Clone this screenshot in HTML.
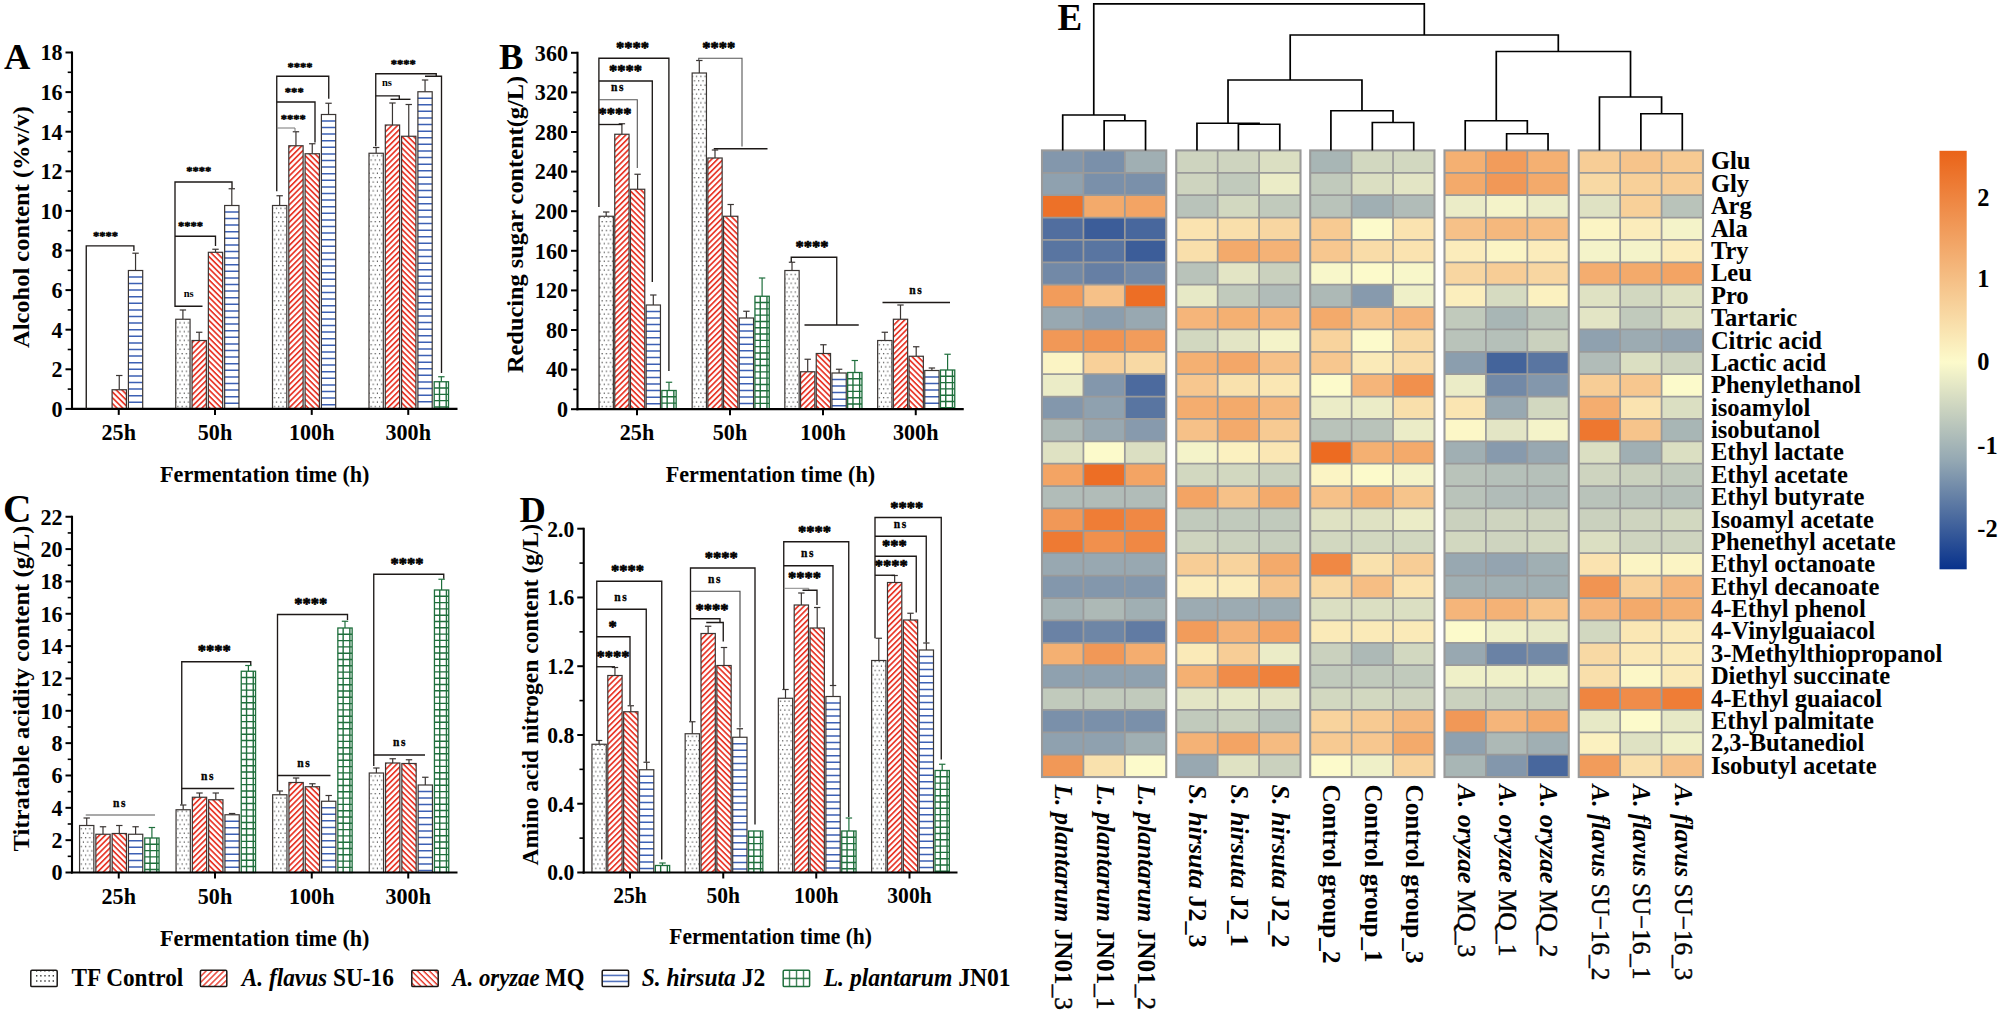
<!DOCTYPE html>
<html lang="en">
<head>
<meta charset="utf-8">
<title>Figure: fermentation parameters and metabolite heatmap</title>
<style>
html,body{margin:0;padding:0;background:#fff;}
body{width:2000px;height:1012px;overflow:hidden;}
svg{display:block;}
svg text{font-family:"Liberation Serif", "Times New Roman", serif;font-weight:bold;fill:#000;}
</style>
</head>
<body>
<svg width="2000" height="1012" viewBox="0 0 2000 1012">
<rect width="2000" height="1012" fill="#fff"/>
<defs>
<pattern id="dots" width="8.4" height="8.8" patternUnits="userSpaceOnUse"><rect width="8.4" height="8.8" fill="#fff"/><g fill="#444"><rect x="1" y="1" width="1.1" height="1.3"/><rect x="5.2" y="1" width="1.1" height="1.3"/><rect x="3.1" y="5.4" width="1.1" height="1.3"/><rect x="7.3" y="5.4" width="1.1" height="1.3"/></g></pattern>
<pattern id="hatchF" width="4.1" height="4.1" patternUnits="userSpaceOnUse" patternTransform="rotate(-45)"><rect width="4.1" height="4.1" fill="#fff"/><rect width="4.1" height="1.75" fill="#e8392b"/></pattern>
<pattern id="hatchB" width="4.1" height="4.1" patternUnits="userSpaceOnUse" patternTransform="rotate(45)"><rect width="4.1" height="4.1" fill="#fff"/><rect width="4.1" height="1.75" fill="#e8392b"/></pattern>
<pattern id="hlines" width="10" height="6.6" patternUnits="userSpaceOnUse"><rect width="10" height="6.6" fill="#fff"/><rect y="2.5" width="10" height="1.5" fill="#3c60b4"/></pattern>
<pattern id="grid" width="5.2" height="6.2" patternUnits="userSpaceOnUse" x="1.5"><rect width="5.2" height="6.2" fill="#fff"/><rect y="2.4" width="5.2" height="1.5" fill="#1f6f3c"/><rect x="3.6" width="1.5" height="6.2" fill="#1f6f3c"/></pattern>
<pattern id="dotsL" width="5" height="7" patternUnits="userSpaceOnUse"><rect width="5" height="7" fill="#fff"/></pattern>
<pattern id="hatchFL" width="4.2" height="4.2" patternUnits="userSpaceOnUse" patternTransform="rotate(-45)"><rect width="4.2" height="4.2" fill="#fff"/><rect width="4.2" height="1.4" fill="#e8392b"/></pattern>
<pattern id="hatchBL" width="4.2" height="4.2" patternUnits="userSpaceOnUse" patternTransform="rotate(45)"><rect width="4.2" height="4.2" fill="#fff"/><rect width="4.2" height="1.4" fill="#e8392b"/></pattern>
<pattern id="hlinesL" width="10" height="6" patternUnits="userSpaceOnUse" y="970.2"><rect width="10" height="6" fill="#fff"/><rect y="4.6" width="10" height="1.4" fill="#3c60b4"/></pattern>
<pattern id="gridL" width="7" height="17" patternUnits="userSpaceOnUse" x="783.2" y="970.2"><rect width="7" height="17" fill="#fff"/><rect y="7.6" width="7" height="1.4" fill="#1f6f3c"/><rect x="5.8" width="1.4" height="17" fill="#1f6f3c"/></pattern>
</defs>
<line x1="119.25" y1="389.75" x2="119.25" y2="375.5" stroke="#3a3533" stroke-width="1.2"/>
<line x1="116.05" y1="375.5" x2="122.45" y2="375.5" stroke="#3a3533" stroke-width="1.2"/>
<rect x="112.1" y="389.75" width="14.3" height="19.15" fill="url(#hatchB)" stroke="#3a3533" stroke-width="1.2"/>
<line x1="135.55" y1="270.5" x2="135.55" y2="253.2" stroke="#3a3533" stroke-width="1.2"/>
<line x1="132.35" y1="253.2" x2="138.75" y2="253.2" stroke="#3a3533" stroke-width="1.2"/>
<rect x="128.4" y="270.5" width="14.3" height="138.4" fill="#fff"/>
<path d="M128.4 276.9h14.3M128.4 283.5h14.3M128.4 290.1h14.3M128.4 296.7h14.3M128.4 303.3h14.3M128.4 309.9h14.3M128.4 316.5h14.3M128.4 323.1h14.3M128.4 329.7h14.3M128.4 336.3h14.3M128.4 342.9h14.3M128.4 349.5h14.3M128.4 356.1h14.3M128.4 362.7h14.3M128.4 369.3h14.3M128.4 375.9h14.3M128.4 382.5h14.3M128.4 389.1h14.3M128.4 395.7h14.3M128.4 402.3h14.3" stroke="#3c60b4" stroke-width="1.5" fill="none"/>
<rect x="128.4" y="270.5" width="14.3" height="138.4" fill="none" stroke="#3a3533" stroke-width="1.2"/>
<line x1="182.9" y1="319.25" x2="182.9" y2="310" stroke="#3a3533" stroke-width="1.2"/>
<line x1="179.7" y1="310" x2="186.1" y2="310" stroke="#3a3533" stroke-width="1.2"/>
<rect x="175.75" y="319.25" width="14.3" height="89.65" fill="url(#dots)" stroke="#3a3533" stroke-width="1.2"/>
<line x1="199.2" y1="340.5" x2="199.2" y2="332.25" stroke="#3a3533" stroke-width="1.2"/>
<line x1="196" y1="332.25" x2="202.4" y2="332.25" stroke="#3a3533" stroke-width="1.2"/>
<rect x="192.05" y="340.5" width="14.3" height="68.4" fill="url(#hatchF)" stroke="#3a3533" stroke-width="1.2"/>
<line x1="215.5" y1="252.3" x2="215.5" y2="249.25" stroke="#3a3533" stroke-width="1.2"/>
<line x1="212.3" y1="249.25" x2="218.7" y2="249.25" stroke="#3a3533" stroke-width="1.2"/>
<rect x="208.35" y="252.3" width="14.3" height="156.6" fill="url(#hatchB)" stroke="#3a3533" stroke-width="1.2"/>
<line x1="231.8" y1="205.5" x2="231.8" y2="188.75" stroke="#3a3533" stroke-width="1.2"/>
<line x1="228.6" y1="188.75" x2="235" y2="188.75" stroke="#3a3533" stroke-width="1.2"/>
<rect x="224.65" y="205.5" width="14.3" height="203.4" fill="#fff"/>
<path d="M224.65 211.9h14.3M224.65 218.5h14.3M224.65 225.1h14.3M224.65 231.7h14.3M224.65 238.3h14.3M224.65 244.9h14.3M224.65 251.5h14.3M224.65 258.1h14.3M224.65 264.7h14.3M224.65 271.3h14.3M224.65 277.9h14.3M224.65 284.5h14.3M224.65 291.1h14.3M224.65 297.7h14.3M224.65 304.3h14.3M224.65 310.9h14.3M224.65 317.5h14.3M224.65 324.1h14.3M224.65 330.7h14.3M224.65 337.3h14.3M224.65 343.9h14.3M224.65 350.5h14.3M224.65 357.1h14.3M224.65 363.7h14.3M224.65 370.3h14.3M224.65 376.9h14.3M224.65 383.5h14.3M224.65 390.1h14.3M224.65 396.7h14.3M224.65 403.3h14.3" stroke="#3c60b4" stroke-width="1.5" fill="none"/>
<rect x="224.65" y="205.5" width="14.3" height="203.4" fill="none" stroke="#3a3533" stroke-width="1.2"/>
<line x1="279.65" y1="205.5" x2="279.65" y2="195.75" stroke="#3a3533" stroke-width="1.2"/>
<line x1="276.45" y1="195.75" x2="282.85" y2="195.75" stroke="#3a3533" stroke-width="1.2"/>
<rect x="272.5" y="205.5" width="14.3" height="203.4" fill="url(#dots)" stroke="#3a3533" stroke-width="1.2"/>
<line x1="295.95" y1="145.75" x2="295.95" y2="131.75" stroke="#3a3533" stroke-width="1.2"/>
<line x1="292.75" y1="131.75" x2="299.15" y2="131.75" stroke="#3a3533" stroke-width="1.2"/>
<rect x="288.8" y="145.75" width="14.3" height="263.15" fill="url(#hatchF)" stroke="#3a3533" stroke-width="1.2"/>
<line x1="312.25" y1="153.75" x2="312.25" y2="143.75" stroke="#3a3533" stroke-width="1.2"/>
<line x1="309.05" y1="143.75" x2="315.45" y2="143.75" stroke="#3a3533" stroke-width="1.2"/>
<rect x="305.1" y="153.75" width="14.3" height="255.15" fill="url(#hatchB)" stroke="#3a3533" stroke-width="1.2"/>
<line x1="328.55" y1="114.5" x2="328.55" y2="103.25" stroke="#3a3533" stroke-width="1.2"/>
<line x1="325.35" y1="103.25" x2="331.75" y2="103.25" stroke="#3a3533" stroke-width="1.2"/>
<rect x="321.4" y="114.5" width="14.3" height="294.4" fill="#fff"/>
<path d="M321.4 120.9h14.3M321.4 127.5h14.3M321.4 134.1h14.3M321.4 140.7h14.3M321.4 147.3h14.3M321.4 153.9h14.3M321.4 160.5h14.3M321.4 167.1h14.3M321.4 173.7h14.3M321.4 180.3h14.3M321.4 186.9h14.3M321.4 193.5h14.3M321.4 200.1h14.3M321.4 206.7h14.3M321.4 213.3h14.3M321.4 219.9h14.3M321.4 226.5h14.3M321.4 233.1h14.3M321.4 239.7h14.3M321.4 246.3h14.3M321.4 252.9h14.3M321.4 259.5h14.3M321.4 266.1h14.3M321.4 272.7h14.3M321.4 279.3h14.3M321.4 285.9h14.3M321.4 292.5h14.3M321.4 299.1h14.3M321.4 305.7h14.3M321.4 312.3h14.3M321.4 318.9h14.3M321.4 325.5h14.3M321.4 332.1h14.3M321.4 338.7h14.3M321.4 345.3h14.3M321.4 351.9h14.3M321.4 358.5h14.3M321.4 365.1h14.3M321.4 371.7h14.3M321.4 378.3h14.3M321.4 384.9h14.3M321.4 391.5h14.3M321.4 398.1h14.3M321.4 404.7h14.3" stroke="#3c60b4" stroke-width="1.5" fill="none"/>
<rect x="321.4" y="114.5" width="14.3" height="294.4" fill="none" stroke="#3a3533" stroke-width="1.2"/>
<line x1="376.15" y1="153.25" x2="376.15" y2="147.5" stroke="#3a3533" stroke-width="1.2"/>
<line x1="372.95" y1="147.5" x2="379.35" y2="147.5" stroke="#3a3533" stroke-width="1.2"/>
<rect x="369" y="153.25" width="14.3" height="255.65" fill="url(#dots)" stroke="#3a3533" stroke-width="1.2"/>
<line x1="392.45" y1="125" x2="392.45" y2="103" stroke="#3a3533" stroke-width="1.2"/>
<line x1="389.25" y1="103" x2="395.65" y2="103" stroke="#3a3533" stroke-width="1.2"/>
<rect x="385.3" y="125" width="14.3" height="283.9" fill="url(#hatchF)" stroke="#3a3533" stroke-width="1.2"/>
<line x1="408.75" y1="136.25" x2="408.75" y2="104.5" stroke="#3a3533" stroke-width="1.2"/>
<line x1="405.55" y1="104.5" x2="411.95" y2="104.5" stroke="#3a3533" stroke-width="1.2"/>
<rect x="401.6" y="136.25" width="14.3" height="272.65" fill="url(#hatchB)" stroke="#3a3533" stroke-width="1.2"/>
<line x1="425.05" y1="91.75" x2="425.05" y2="80" stroke="#3a3533" stroke-width="1.2"/>
<line x1="421.85" y1="80" x2="428.25" y2="80" stroke="#3a3533" stroke-width="1.2"/>
<rect x="417.9" y="91.75" width="14.3" height="317.15" fill="#fff"/>
<path d="M417.9 98.15h14.3M417.9 104.75h14.3M417.9 111.35h14.3M417.9 117.95h14.3M417.9 124.55h14.3M417.9 131.15h14.3M417.9 137.75h14.3M417.9 144.35h14.3M417.9 150.95h14.3M417.9 157.55h14.3M417.9 164.15h14.3M417.9 170.75h14.3M417.9 177.35h14.3M417.9 183.95h14.3M417.9 190.55h14.3M417.9 197.15h14.3M417.9 203.75h14.3M417.9 210.35h14.3M417.9 216.95h14.3M417.9 223.55h14.3M417.9 230.15h14.3M417.9 236.75h14.3M417.9 243.35h14.3M417.9 249.95h14.3M417.9 256.55h14.3M417.9 263.15h14.3M417.9 269.75h14.3M417.9 276.35h14.3M417.9 282.95h14.3M417.9 289.55h14.3M417.9 296.15h14.3M417.9 302.75h14.3M417.9 309.35h14.3M417.9 315.95h14.3M417.9 322.55h14.3M417.9 329.15h14.3M417.9 335.75h14.3M417.9 342.35h14.3M417.9 348.95h14.3M417.9 355.55h14.3M417.9 362.15h14.3M417.9 368.75h14.3M417.9 375.35h14.3M417.9 381.95h14.3M417.9 388.55h14.3M417.9 395.15h14.3M417.9 401.75h14.3" stroke="#3c60b4" stroke-width="1.5" fill="none"/>
<rect x="417.9" y="91.75" width="14.3" height="317.15" fill="none" stroke="#3a3533" stroke-width="1.2"/>
<line x1="441.35" y1="381.75" x2="441.35" y2="376.75" stroke="#1f6f3c" stroke-width="1.2"/>
<line x1="438.15" y1="376.75" x2="444.55" y2="376.75" stroke="#1f6f3c" stroke-width="1.2"/>
<rect x="434.2" y="381.75" width="14.3" height="27.15" fill="#fff"/>
<path d="M434.2 388.05h14.3M434.2 394.35h14.3M434.2 400.65h14.3M434.2 406.95h14.3M439.5 381.75V408.9M446.2 381.75V408.9" stroke="#1f6f3c" stroke-width="1.4" fill="none"/>
<rect x="434.2" y="381.75" width="14.3" height="27.15" fill="none" stroke="#1f6f3c" stroke-width="1.3"/>
<line x1="72" y1="51.5" x2="72" y2="409.9" stroke="#000" stroke-width="2.1"/>
<line x1="70.9" y1="408.9" x2="457.5" y2="408.9" stroke="#000" stroke-width="2.2"/>
<line x1="65.5" y1="408.9" x2="72" y2="408.9" stroke="#000" stroke-width="2"/>
<text x="62.5" y="416.7" font-size="23.5" text-anchor="end" textLength="11.04" lengthAdjust="spacingAndGlyphs">0</text>
<line x1="65.5" y1="369.3" x2="72" y2="369.3" stroke="#000" stroke-width="2"/>
<text x="62.5" y="377.1" font-size="23.5" text-anchor="end" textLength="11.04" lengthAdjust="spacingAndGlyphs">2</text>
<line x1="65.5" y1="329.7" x2="72" y2="329.7" stroke="#000" stroke-width="2"/>
<text x="62.5" y="337.5" font-size="23.5" text-anchor="end" textLength="11.04" lengthAdjust="spacingAndGlyphs">4</text>
<line x1="65.5" y1="290.1" x2="72" y2="290.1" stroke="#000" stroke-width="2"/>
<text x="62.5" y="297.9" font-size="23.5" text-anchor="end" textLength="11.04" lengthAdjust="spacingAndGlyphs">6</text>
<line x1="65.5" y1="250.5" x2="72" y2="250.5" stroke="#000" stroke-width="2"/>
<text x="62.5" y="258.3" font-size="23.5" text-anchor="end" textLength="11.04" lengthAdjust="spacingAndGlyphs">8</text>
<line x1="65.5" y1="210.9" x2="72" y2="210.9" stroke="#000" stroke-width="2"/>
<text x="62.5" y="218.7" font-size="23.5" text-anchor="end" textLength="22.09" lengthAdjust="spacingAndGlyphs">10</text>
<line x1="65.5" y1="171.3" x2="72" y2="171.3" stroke="#000" stroke-width="2"/>
<text x="62.5" y="179.1" font-size="23.5" text-anchor="end" textLength="22.09" lengthAdjust="spacingAndGlyphs">12</text>
<line x1="65.5" y1="131.7" x2="72" y2="131.7" stroke="#000" stroke-width="2"/>
<text x="62.5" y="139.5" font-size="23.5" text-anchor="end" textLength="22.09" lengthAdjust="spacingAndGlyphs">14</text>
<line x1="65.5" y1="92.1" x2="72" y2="92.1" stroke="#000" stroke-width="2"/>
<text x="62.5" y="99.9" font-size="23.5" text-anchor="end" textLength="22.09" lengthAdjust="spacingAndGlyphs">16</text>
<line x1="65.5" y1="52.5" x2="72" y2="52.5" stroke="#000" stroke-width="2"/>
<text x="62.5" y="60.3" font-size="23.5" text-anchor="end" textLength="22.09" lengthAdjust="spacingAndGlyphs">18</text>
<line x1="67.7" y1="389.1" x2="72" y2="389.1" stroke="#000" stroke-width="1.6"/>
<line x1="67.7" y1="349.5" x2="72" y2="349.5" stroke="#000" stroke-width="1.6"/>
<line x1="67.7" y1="309.9" x2="72" y2="309.9" stroke="#000" stroke-width="1.6"/>
<line x1="67.7" y1="270.3" x2="72" y2="270.3" stroke="#000" stroke-width="1.6"/>
<line x1="67.7" y1="230.7" x2="72" y2="230.7" stroke="#000" stroke-width="1.6"/>
<line x1="67.7" y1="191.1" x2="72" y2="191.1" stroke="#000" stroke-width="1.6"/>
<line x1="67.7" y1="151.5" x2="72" y2="151.5" stroke="#000" stroke-width="1.6"/>
<line x1="67.7" y1="111.9" x2="72" y2="111.9" stroke="#000" stroke-width="1.6"/>
<line x1="67.7" y1="72.3" x2="72" y2="72.3" stroke="#000" stroke-width="1.6"/>
<line x1="118.75" y1="408.9" x2="118.75" y2="414.9" stroke="#000" stroke-width="2"/>
<text x="118.75" y="440" font-size="23.5" text-anchor="middle" textLength="34.38" lengthAdjust="spacingAndGlyphs">25h</text>
<line x1="215" y1="408.9" x2="215" y2="414.9" stroke="#000" stroke-width="2"/>
<text x="215" y="440" font-size="23.5" text-anchor="middle" textLength="34.38" lengthAdjust="spacingAndGlyphs">50h</text>
<line x1="311.75" y1="408.9" x2="311.75" y2="414.9" stroke="#000" stroke-width="2"/>
<text x="311.75" y="440" font-size="23.5" text-anchor="middle" textLength="45.42" lengthAdjust="spacingAndGlyphs">100h</text>
<line x1="408.25" y1="408.9" x2="408.25" y2="414.9" stroke="#000" stroke-width="2"/>
<text x="408.25" y="440" font-size="23.5" text-anchor="middle" textLength="45.42" lengthAdjust="spacingAndGlyphs">300h</text>
<text x="4" y="69" font-size="36.5" text-anchor="start">A</text>
<text x="28.9" y="227" font-size="23.2" text-anchor="middle" textLength="242" lengthAdjust="spacingAndGlyphs" transform="rotate(-90 28.9 227)">Alcohol content (%v/v)</text>
<text x="264.75" y="481.7" font-size="23" text-anchor="middle" textLength="209.5" lengthAdjust="spacingAndGlyphs">Fermentation time (h)</text>
<polyline points="86.25,408.9 86.25,245.9 133.9,245.9 133.9,251" fill="none" stroke="#1d1917" stroke-width="1.35"/>
<text x="105.5" y="239.5" font-size="12.6" text-anchor="middle" stroke="#000" stroke-width="0.5" stroke-linejoin="round">****</text>
<polyline points="232,188.5 232,182 175,182 175,306.2 202.5,306.2" fill="none" stroke="#1d1917" stroke-width="1.35"/>
<text x="198.75" y="175.3" font-size="12.6" text-anchor="middle" stroke="#000" stroke-width="0.5" stroke-linejoin="round">****</text>
<polyline points="175,236.25 215.5,236.25 215.5,246" fill="none" stroke="#1d1917" stroke-width="1.35"/>
<text x="190.5" y="229.55" font-size="12.6" text-anchor="middle" stroke="#000" stroke-width="0.5" stroke-linejoin="round">****</text>
<text x="188.75" y="297.25" font-size="10.5" text-anchor="middle" font-weight="normal" fill="#333">ns</text>
<polyline points="328.75,98.75 328.75,76.25 276.75,76.25 276.75,191.25" fill="none" stroke="#1d1917" stroke-width="1.35"/>
<text x="300" y="71.3" font-size="12.6" text-anchor="middle" stroke="#000" stroke-width="0.5" stroke-linejoin="round">****</text>
<polyline points="276.75,102 315,102 315,142.5" fill="none" stroke="#1d1917" stroke-width="1.35"/>
<text x="294.25" y="96.3" font-size="12.6" text-anchor="middle" stroke="#000" stroke-width="0.5" stroke-linejoin="round">***</text>
<polyline points="276.75,128 295,128 295,131.5" fill="none" stroke="#777" stroke-width="1"/>
<text x="293.25" y="122.55" font-size="12.6" text-anchor="middle" stroke="#000" stroke-width="0.5" stroke-linejoin="round">****</text>
<polyline points="375.75,146.25 375.75,73.75 436.25,73.75 436.25,76.25" fill="none" stroke="#1d1917" stroke-width="1.35"/>
<polyline points="425,76.25 441.5,76.25 441.5,373" fill="none" stroke="#1d1917" stroke-width="1.35"/>
<text x="403.25" y="68.3" font-size="12.6" text-anchor="middle" stroke="#000" stroke-width="0.5" stroke-linejoin="round">****</text>
<polyline points="375.75,95.9 399.3,95.9 399.3,99.3" fill="none" stroke="#1d1917" stroke-width="1.35"/>
<line x1="390.5" y1="99.3" x2="410.5" y2="99.3" stroke="#1d1917" stroke-width="1.35"/>
<text x="387" y="85.5" font-size="10.5" text-anchor="middle" font-weight="normal" fill="#333">ns</text>
<line x1="606.2" y1="216.25" x2="606.2" y2="212" stroke="#3a3533" stroke-width="1.2"/>
<line x1="603" y1="212" x2="609.4" y2="212" stroke="#3a3533" stroke-width="1.2"/>
<rect x="599.05" y="216.25" width="14.3" height="192.95" fill="url(#dots)" stroke="#3a3533" stroke-width="1.2"/>
<line x1="621.9" y1="134.25" x2="621.9" y2="123.75" stroke="#3a3533" stroke-width="1.2"/>
<line x1="618.7" y1="123.75" x2="625.1" y2="123.75" stroke="#3a3533" stroke-width="1.2"/>
<rect x="614.75" y="134.25" width="14.3" height="274.95" fill="url(#hatchF)" stroke="#3a3533" stroke-width="1.2"/>
<line x1="637.6" y1="189.25" x2="637.6" y2="174.25" stroke="#3a3533" stroke-width="1.2"/>
<line x1="634.4" y1="174.25" x2="640.8" y2="174.25" stroke="#3a3533" stroke-width="1.2"/>
<rect x="630.45" y="189.25" width="14.3" height="219.95" fill="url(#hatchB)" stroke="#3a3533" stroke-width="1.2"/>
<line x1="653.3" y1="305" x2="653.3" y2="295" stroke="#3a3533" stroke-width="1.2"/>
<line x1="650.1" y1="295" x2="656.5" y2="295" stroke="#3a3533" stroke-width="1.2"/>
<rect x="646.15" y="305" width="14.3" height="104.2" fill="#fff"/>
<path d="M646.15 311.4h14.3M646.15 318h14.3M646.15 324.6h14.3M646.15 331.2h14.3M646.15 337.8h14.3M646.15 344.4h14.3M646.15 351h14.3M646.15 357.6h14.3M646.15 364.2h14.3M646.15 370.8h14.3M646.15 377.4h14.3M646.15 384h14.3M646.15 390.6h14.3M646.15 397.2h14.3M646.15 403.8h14.3" stroke="#3c60b4" stroke-width="1.5" fill="none"/>
<rect x="646.15" y="305" width="14.3" height="104.2" fill="none" stroke="#3a3533" stroke-width="1.2"/>
<line x1="669" y1="390.5" x2="669" y2="382.25" stroke="#1f6f3c" stroke-width="1.2"/>
<line x1="665.8" y1="382.25" x2="672.2" y2="382.25" stroke="#1f6f3c" stroke-width="1.2"/>
<rect x="661.85" y="390.5" width="14.3" height="18.7" fill="#fff"/>
<path d="M661.85 396.8h14.3M661.85 403.1h14.3M667.15 390.5V409.2M673.85 390.5V409.2" stroke="#1f6f3c" stroke-width="1.4" fill="none"/>
<rect x="661.85" y="390.5" width="14.3" height="18.7" fill="none" stroke="#1f6f3c" stroke-width="1.3"/>
<line x1="699.3" y1="73" x2="699.3" y2="60.5" stroke="#3a3533" stroke-width="1.2"/>
<line x1="696.1" y1="60.5" x2="702.5" y2="60.5" stroke="#3a3533" stroke-width="1.2"/>
<rect x="692.15" y="73" width="14.3" height="336.2" fill="url(#dots)" stroke="#3a3533" stroke-width="1.2"/>
<line x1="715" y1="158" x2="715" y2="150" stroke="#3a3533" stroke-width="1.2"/>
<line x1="711.8" y1="150" x2="718.2" y2="150" stroke="#3a3533" stroke-width="1.2"/>
<rect x="707.85" y="158" width="14.3" height="251.2" fill="url(#hatchF)" stroke="#3a3533" stroke-width="1.2"/>
<line x1="730.7" y1="216.25" x2="730.7" y2="204.5" stroke="#3a3533" stroke-width="1.2"/>
<line x1="727.5" y1="204.5" x2="733.9" y2="204.5" stroke="#3a3533" stroke-width="1.2"/>
<rect x="723.55" y="216.25" width="14.3" height="192.95" fill="url(#hatchB)" stroke="#3a3533" stroke-width="1.2"/>
<line x1="746.4" y1="318" x2="746.4" y2="311.25" stroke="#3a3533" stroke-width="1.2"/>
<line x1="743.2" y1="311.25" x2="749.6" y2="311.25" stroke="#3a3533" stroke-width="1.2"/>
<rect x="739.25" y="318" width="14.3" height="91.2" fill="#fff"/>
<path d="M739.25 324.4h14.3M739.25 331h14.3M739.25 337.6h14.3M739.25 344.2h14.3M739.25 350.8h14.3M739.25 357.4h14.3M739.25 364h14.3M739.25 370.6h14.3M739.25 377.2h14.3M739.25 383.8h14.3M739.25 390.4h14.3M739.25 397h14.3M739.25 403.6h14.3" stroke="#3c60b4" stroke-width="1.5" fill="none"/>
<rect x="739.25" y="318" width="14.3" height="91.2" fill="none" stroke="#3a3533" stroke-width="1.2"/>
<line x1="762.1" y1="296.25" x2="762.1" y2="278" stroke="#1f6f3c" stroke-width="1.2"/>
<line x1="758.9" y1="278" x2="765.3" y2="278" stroke="#1f6f3c" stroke-width="1.2"/>
<rect x="754.95" y="296.25" width="14.3" height="112.95" fill="#fff"/>
<path d="M754.95 302.55h14.3M754.95 308.85h14.3M754.95 315.15h14.3M754.95 321.45h14.3M754.95 327.75h14.3M754.95 334.05h14.3M754.95 340.35h14.3M754.95 346.65h14.3M754.95 352.95h14.3M754.95 359.25h14.3M754.95 365.55h14.3M754.95 371.85h14.3M754.95 378.15h14.3M754.95 384.45h14.3M754.95 390.75h14.3M754.95 397.05h14.3M754.95 403.35h14.3M760.25 296.25V409.2M766.95 296.25V409.2" stroke="#1f6f3c" stroke-width="1.4" fill="none"/>
<rect x="754.95" y="296.25" width="14.3" height="112.95" fill="none" stroke="#1f6f3c" stroke-width="1.3"/>
<line x1="792" y1="270.5" x2="792" y2="262.25" stroke="#3a3533" stroke-width="1.2"/>
<line x1="788.8" y1="262.25" x2="795.2" y2="262.25" stroke="#3a3533" stroke-width="1.2"/>
<rect x="784.85" y="270.5" width="14.3" height="138.7" fill="url(#dots)" stroke="#3a3533" stroke-width="1.2"/>
<line x1="807.7" y1="371.75" x2="807.7" y2="359.25" stroke="#3a3533" stroke-width="1.2"/>
<line x1="804.5" y1="359.25" x2="810.9" y2="359.25" stroke="#3a3533" stroke-width="1.2"/>
<rect x="800.55" y="371.75" width="14.3" height="37.45" fill="url(#hatchF)" stroke="#3a3533" stroke-width="1.2"/>
<line x1="823.4" y1="353.5" x2="823.4" y2="344.75" stroke="#3a3533" stroke-width="1.2"/>
<line x1="820.2" y1="344.75" x2="826.6" y2="344.75" stroke="#3a3533" stroke-width="1.2"/>
<rect x="816.25" y="353.5" width="14.3" height="55.7" fill="url(#hatchB)" stroke="#3a3533" stroke-width="1.2"/>
<line x1="839.1" y1="373" x2="839.1" y2="369.25" stroke="#3a3533" stroke-width="1.2"/>
<line x1="835.9" y1="369.25" x2="842.3" y2="369.25" stroke="#3a3533" stroke-width="1.2"/>
<rect x="831.95" y="373" width="14.3" height="36.2" fill="#fff"/>
<path d="M831.95 379.4h14.3M831.95 386h14.3M831.95 392.6h14.3M831.95 399.2h14.3M831.95 405.8h14.3" stroke="#3c60b4" stroke-width="1.5" fill="none"/>
<rect x="831.95" y="373" width="14.3" height="36.2" fill="none" stroke="#3a3533" stroke-width="1.2"/>
<line x1="854.8" y1="372.5" x2="854.8" y2="360.5" stroke="#1f6f3c" stroke-width="1.2"/>
<line x1="851.6" y1="360.5" x2="858" y2="360.5" stroke="#1f6f3c" stroke-width="1.2"/>
<rect x="847.65" y="372.5" width="14.3" height="36.7" fill="#fff"/>
<path d="M847.65 378.8h14.3M847.65 385.1h14.3M847.65 391.4h14.3M847.65 397.7h14.3M847.65 404h14.3M852.95 372.5V409.2M859.65 372.5V409.2" stroke="#1f6f3c" stroke-width="1.4" fill="none"/>
<rect x="847.65" y="372.5" width="14.3" height="36.7" fill="none" stroke="#1f6f3c" stroke-width="1.3"/>
<line x1="884.8" y1="340.5" x2="884.8" y2="332.25" stroke="#3a3533" stroke-width="1.2"/>
<line x1="881.6" y1="332.25" x2="888" y2="332.25" stroke="#3a3533" stroke-width="1.2"/>
<rect x="877.65" y="340.5" width="14.3" height="68.7" fill="url(#dots)" stroke="#3a3533" stroke-width="1.2"/>
<line x1="900.5" y1="319.25" x2="900.5" y2="305" stroke="#3a3533" stroke-width="1.2"/>
<line x1="897.3" y1="305" x2="903.7" y2="305" stroke="#3a3533" stroke-width="1.2"/>
<rect x="893.35" y="319.25" width="14.3" height="89.95" fill="url(#hatchF)" stroke="#3a3533" stroke-width="1.2"/>
<line x1="916.2" y1="356.25" x2="916.2" y2="346.75" stroke="#3a3533" stroke-width="1.2"/>
<line x1="913" y1="346.75" x2="919.4" y2="346.75" stroke="#3a3533" stroke-width="1.2"/>
<rect x="909.05" y="356.25" width="14.3" height="52.95" fill="url(#hatchB)" stroke="#3a3533" stroke-width="1.2"/>
<line x1="931.9" y1="370.5" x2="931.9" y2="368" stroke="#3a3533" stroke-width="1.2"/>
<line x1="928.7" y1="368" x2="935.1" y2="368" stroke="#3a3533" stroke-width="1.2"/>
<rect x="924.75" y="370.5" width="14.3" height="38.7" fill="#fff"/>
<path d="M924.75 376.9h14.3M924.75 383.5h14.3M924.75 390.1h14.3M924.75 396.7h14.3M924.75 403.3h14.3" stroke="#3c60b4" stroke-width="1.5" fill="none"/>
<rect x="924.75" y="370.5" width="14.3" height="38.7" fill="none" stroke="#3a3533" stroke-width="1.2"/>
<line x1="947.6" y1="370" x2="947.6" y2="354.25" stroke="#1f6f3c" stroke-width="1.2"/>
<line x1="944.4" y1="354.25" x2="950.8" y2="354.25" stroke="#1f6f3c" stroke-width="1.2"/>
<rect x="940.45" y="370" width="14.3" height="39.2" fill="#fff"/>
<path d="M940.45 376.3h14.3M940.45 382.6h14.3M940.45 388.9h14.3M940.45 395.2h14.3M940.45 401.5h14.3M940.45 407.8h14.3M945.75 370V409.2M952.45 370V409.2" stroke="#1f6f3c" stroke-width="1.4" fill="none"/>
<rect x="940.45" y="370" width="14.3" height="39.2" fill="none" stroke="#1f6f3c" stroke-width="1.3"/>
<line x1="577.5" y1="51.8" x2="577.5" y2="410.2" stroke="#000" stroke-width="2.1"/>
<line x1="576.4" y1="409.2" x2="963.75" y2="409.2" stroke="#000" stroke-width="2.2"/>
<line x1="571" y1="409.2" x2="577.5" y2="409.2" stroke="#000" stroke-width="2"/>
<text x="568" y="417" font-size="23.5" text-anchor="end" textLength="11.04" lengthAdjust="spacingAndGlyphs">0</text>
<line x1="571" y1="369.6" x2="577.5" y2="369.6" stroke="#000" stroke-width="2"/>
<text x="568" y="377.4" font-size="23.5" text-anchor="end" textLength="22.09" lengthAdjust="spacingAndGlyphs">40</text>
<line x1="571" y1="330" x2="577.5" y2="330" stroke="#000" stroke-width="2"/>
<text x="568" y="337.8" font-size="23.5" text-anchor="end" textLength="22.09" lengthAdjust="spacingAndGlyphs">80</text>
<line x1="571" y1="290.4" x2="577.5" y2="290.4" stroke="#000" stroke-width="2"/>
<text x="568" y="298.2" font-size="23.5" text-anchor="end" textLength="33.13" lengthAdjust="spacingAndGlyphs">120</text>
<line x1="571" y1="250.8" x2="577.5" y2="250.8" stroke="#000" stroke-width="2"/>
<text x="568" y="258.6" font-size="23.5" text-anchor="end" textLength="33.13" lengthAdjust="spacingAndGlyphs">160</text>
<line x1="571" y1="211.2" x2="577.5" y2="211.2" stroke="#000" stroke-width="2"/>
<text x="568" y="219" font-size="23.5" text-anchor="end" textLength="33.13" lengthAdjust="spacingAndGlyphs">200</text>
<line x1="571" y1="171.6" x2="577.5" y2="171.6" stroke="#000" stroke-width="2"/>
<text x="568" y="179.4" font-size="23.5" text-anchor="end" textLength="33.13" lengthAdjust="spacingAndGlyphs">240</text>
<line x1="571" y1="132" x2="577.5" y2="132" stroke="#000" stroke-width="2"/>
<text x="568" y="139.8" font-size="23.5" text-anchor="end" textLength="33.13" lengthAdjust="spacingAndGlyphs">280</text>
<line x1="571" y1="92.4" x2="577.5" y2="92.4" stroke="#000" stroke-width="2"/>
<text x="568" y="100.2" font-size="23.5" text-anchor="end" textLength="33.13" lengthAdjust="spacingAndGlyphs">320</text>
<line x1="571" y1="52.8" x2="577.5" y2="52.8" stroke="#000" stroke-width="2"/>
<text x="568" y="60.6" font-size="23.5" text-anchor="end" textLength="33.13" lengthAdjust="spacingAndGlyphs">360</text>
<line x1="573.2" y1="389.4" x2="577.5" y2="389.4" stroke="#000" stroke-width="1.6"/>
<line x1="573.2" y1="349.8" x2="577.5" y2="349.8" stroke="#000" stroke-width="1.6"/>
<line x1="573.2" y1="310.2" x2="577.5" y2="310.2" stroke="#000" stroke-width="1.6"/>
<line x1="573.2" y1="270.6" x2="577.5" y2="270.6" stroke="#000" stroke-width="1.6"/>
<line x1="573.2" y1="231" x2="577.5" y2="231" stroke="#000" stroke-width="1.6"/>
<line x1="573.2" y1="191.4" x2="577.5" y2="191.4" stroke="#000" stroke-width="1.6"/>
<line x1="573.2" y1="151.8" x2="577.5" y2="151.8" stroke="#000" stroke-width="1.6"/>
<line x1="573.2" y1="112.2" x2="577.5" y2="112.2" stroke="#000" stroke-width="1.6"/>
<line x1="573.2" y1="72.6" x2="577.5" y2="72.6" stroke="#000" stroke-width="1.6"/>
<line x1="637" y1="409.2" x2="637" y2="415.2" stroke="#000" stroke-width="2"/>
<text x="637" y="440" font-size="23.5" text-anchor="middle" textLength="34.38" lengthAdjust="spacingAndGlyphs">25h</text>
<line x1="730" y1="409.2" x2="730" y2="415.2" stroke="#000" stroke-width="2"/>
<text x="730" y="440" font-size="23.5" text-anchor="middle" textLength="34.38" lengthAdjust="spacingAndGlyphs">50h</text>
<line x1="823" y1="409.2" x2="823" y2="415.2" stroke="#000" stroke-width="2"/>
<text x="823" y="440" font-size="23.5" text-anchor="middle" textLength="45.42" lengthAdjust="spacingAndGlyphs">100h</text>
<line x1="915.75" y1="409.2" x2="915.75" y2="415.2" stroke="#000" stroke-width="2"/>
<text x="915.75" y="440" font-size="23.5" text-anchor="middle" textLength="45.42" lengthAdjust="spacingAndGlyphs">300h</text>
<text x="499" y="68.5" font-size="36.5" text-anchor="start">B</text>
<text x="522.8" y="224.5" font-size="23.2" text-anchor="middle" textLength="297" lengthAdjust="spacingAndGlyphs" transform="rotate(-90 522.8 224.5)">Reducing sugar content(g/L)</text>
<text x="770.4" y="481.7" font-size="23" text-anchor="middle" textLength="209.5" lengthAdjust="spacingAndGlyphs">Fermentation time (h)</text>
<polyline points="598.9,207 598.9,58.2 668.9,58.2 668.9,371" fill="none" stroke="#1d1917" stroke-width="1.35"/>
<text x="632.5" y="53.09" font-size="16.5" text-anchor="middle" stroke="#000" stroke-width="0.66" stroke-linejoin="round">****</text>
<polyline points="598.9,81 652.3,81 652.3,282" fill="none" stroke="#1d1917" stroke-width="1.35"/>
<text x="625.5" y="75.59" font-size="16.5" text-anchor="middle" stroke="#000" stroke-width="0.66" stroke-linejoin="round">****</text>
<polyline points="598.9,99.7 637.3,99.7 637.3,168" fill="none" stroke="#555" stroke-width="1.1"/>
<text x="618" y="90.5" font-size="11.5" text-anchor="middle" letter-spacing="1.5" stroke="#000" stroke-width="0.3">ns</text>
<polyline points="598.9,124.5 622.3,124.5" fill="none" stroke="#1d1917" stroke-width="1.35"/>
<text x="615" y="119.34" font-size="16.5" text-anchor="middle" stroke="#000" stroke-width="0.66" stroke-linejoin="round">****</text>
<polyline points="698.75,60.5 698.75,58.3 742,58.3 742,146.5" fill="none" stroke="#555" stroke-width="1.1"/>
<line x1="713.75" y1="148.75" x2="767.5" y2="148.75" stroke="#1d1917" stroke-width="1.35"/>
<text x="718.75" y="53.09" font-size="16.5" text-anchor="middle" stroke="#000" stroke-width="0.66" stroke-linejoin="round">****</text>
<polyline points="791.25,262 791.25,257.25 836.75,257.25 836.75,325" fill="none" stroke="#1d1917" stroke-width="1.35"/>
<line x1="804.5" y1="325" x2="858.75" y2="325" stroke="#1d1917" stroke-width="1.35"/>
<text x="812" y="251.59" font-size="16.5" text-anchor="middle" stroke="#000" stroke-width="0.66" stroke-linejoin="round">****</text>
<line x1="882.5" y1="302.5" x2="950" y2="302.5" stroke="#1d1917" stroke-width="1.35"/>
<text x="916.25" y="293.5" font-size="11.5" text-anchor="middle" letter-spacing="1.5" stroke="#000" stroke-width="0.3">ns</text>
<line x1="86.7" y1="825.5" x2="86.7" y2="818" stroke="#3a3533" stroke-width="1.2"/>
<line x1="83.5" y1="818" x2="89.9" y2="818" stroke="#3a3533" stroke-width="1.2"/>
<rect x="79.55" y="825.5" width="14.3" height="47" fill="url(#dots)" stroke="#3a3533" stroke-width="1.2"/>
<line x1="103" y1="834.25" x2="103" y2="826.75" stroke="#3a3533" stroke-width="1.2"/>
<line x1="99.8" y1="826.75" x2="106.2" y2="826.75" stroke="#3a3533" stroke-width="1.2"/>
<rect x="95.85" y="834.25" width="14.3" height="38.25" fill="url(#hatchF)" stroke="#3a3533" stroke-width="1.2"/>
<line x1="119.3" y1="833.5" x2="119.3" y2="825.5" stroke="#3a3533" stroke-width="1.2"/>
<line x1="116.1" y1="825.5" x2="122.5" y2="825.5" stroke="#3a3533" stroke-width="1.2"/>
<rect x="112.15" y="833.5" width="14.3" height="39" fill="url(#hatchB)" stroke="#3a3533" stroke-width="1.2"/>
<line x1="135.6" y1="834.25" x2="135.6" y2="826.75" stroke="#3a3533" stroke-width="1.2"/>
<line x1="132.4" y1="826.75" x2="138.8" y2="826.75" stroke="#3a3533" stroke-width="1.2"/>
<rect x="128.45" y="834.25" width="14.3" height="38.25" fill="#fff"/>
<path d="M128.45 840.65h14.3M128.45 847.25h14.3M128.45 853.85h14.3M128.45 860.45h14.3M128.45 867.05h14.3" stroke="#3c60b4" stroke-width="1.5" fill="none"/>
<rect x="128.45" y="834.25" width="14.3" height="38.25" fill="none" stroke="#3a3533" stroke-width="1.2"/>
<line x1="151.9" y1="838" x2="151.9" y2="827.5" stroke="#1f6f3c" stroke-width="1.2"/>
<line x1="148.7" y1="827.5" x2="155.1" y2="827.5" stroke="#1f6f3c" stroke-width="1.2"/>
<rect x="144.75" y="838" width="14.3" height="34.5" fill="#fff"/>
<path d="M144.75 844.3h14.3M144.75 850.6h14.3M144.75 856.9h14.3M144.75 863.2h14.3M144.75 869.5h14.3M150.05 838V872.5M156.75 838V872.5" stroke="#1f6f3c" stroke-width="1.4" fill="none"/>
<rect x="144.75" y="838" width="14.3" height="34.5" fill="none" stroke="#1f6f3c" stroke-width="1.3"/>
<line x1="183.2" y1="809.75" x2="183.2" y2="805" stroke="#3a3533" stroke-width="1.2"/>
<line x1="180" y1="805" x2="186.4" y2="805" stroke="#3a3533" stroke-width="1.2"/>
<rect x="176.05" y="809.75" width="14.3" height="62.75" fill="url(#dots)" stroke="#3a3533" stroke-width="1.2"/>
<line x1="199.5" y1="797.25" x2="199.5" y2="793" stroke="#3a3533" stroke-width="1.2"/>
<line x1="196.3" y1="793" x2="202.7" y2="793" stroke="#3a3533" stroke-width="1.2"/>
<rect x="192.35" y="797.25" width="14.3" height="75.25" fill="url(#hatchF)" stroke="#3a3533" stroke-width="1.2"/>
<line x1="215.8" y1="799.75" x2="215.8" y2="793" stroke="#3a3533" stroke-width="1.2"/>
<line x1="212.6" y1="793" x2="219" y2="793" stroke="#3a3533" stroke-width="1.2"/>
<rect x="208.65" y="799.75" width="14.3" height="72.75" fill="url(#hatchB)" stroke="#3a3533" stroke-width="1.2"/>
<line x1="232.1" y1="814.75" x2="232.1" y2="813.5" stroke="#3a3533" stroke-width="1.2"/>
<line x1="228.9" y1="813.5" x2="235.3" y2="813.5" stroke="#3a3533" stroke-width="1.2"/>
<rect x="224.95" y="814.75" width="14.3" height="57.75" fill="#fff"/>
<path d="M224.95 821.15h14.3M224.95 827.75h14.3M224.95 834.35h14.3M224.95 840.95h14.3M224.95 847.55h14.3M224.95 854.15h14.3M224.95 860.75h14.3M224.95 867.35h14.3" stroke="#3c60b4" stroke-width="1.5" fill="none"/>
<rect x="224.95" y="814.75" width="14.3" height="57.75" fill="none" stroke="#3a3533" stroke-width="1.2"/>
<line x1="248.4" y1="671.25" x2="248.4" y2="665.5" stroke="#1f6f3c" stroke-width="1.2"/>
<line x1="245.2" y1="665.5" x2="251.6" y2="665.5" stroke="#1f6f3c" stroke-width="1.2"/>
<rect x="241.25" y="671.25" width="14.3" height="201.25" fill="#fff"/>
<path d="M241.25 677.55h14.3M241.25 683.85h14.3M241.25 690.15h14.3M241.25 696.45h14.3M241.25 702.75h14.3M241.25 709.05h14.3M241.25 715.35h14.3M241.25 721.65h14.3M241.25 727.95h14.3M241.25 734.25h14.3M241.25 740.55h14.3M241.25 746.85h14.3M241.25 753.15h14.3M241.25 759.45h14.3M241.25 765.75h14.3M241.25 772.05h14.3M241.25 778.35h14.3M241.25 784.65h14.3M241.25 790.95h14.3M241.25 797.25h14.3M241.25 803.55h14.3M241.25 809.85h14.3M241.25 816.15h14.3M241.25 822.45h14.3M241.25 828.75h14.3M241.25 835.05h14.3M241.25 841.35h14.3M241.25 847.65h14.3M241.25 853.95h14.3M241.25 860.25h14.3M241.25 866.55h14.3M246.55 671.25V872.5M253.25 671.25V872.5" stroke="#1f6f3c" stroke-width="1.4" fill="none"/>
<rect x="241.25" y="671.25" width="14.3" height="201.25" fill="none" stroke="#1f6f3c" stroke-width="1.3"/>
<line x1="279.8" y1="794.75" x2="279.8" y2="791" stroke="#3a3533" stroke-width="1.2"/>
<line x1="276.6" y1="791" x2="283" y2="791" stroke="#3a3533" stroke-width="1.2"/>
<rect x="272.65" y="794.75" width="14.3" height="77.75" fill="url(#dots)" stroke="#3a3533" stroke-width="1.2"/>
<line x1="296.1" y1="782.5" x2="296.1" y2="778" stroke="#3a3533" stroke-width="1.2"/>
<line x1="292.9" y1="778" x2="299.3" y2="778" stroke="#3a3533" stroke-width="1.2"/>
<rect x="288.95" y="782.5" width="14.3" height="90" fill="url(#hatchF)" stroke="#3a3533" stroke-width="1.2"/>
<line x1="312.4" y1="786.75" x2="312.4" y2="783.75" stroke="#3a3533" stroke-width="1.2"/>
<line x1="309.2" y1="783.75" x2="315.6" y2="783.75" stroke="#3a3533" stroke-width="1.2"/>
<rect x="305.25" y="786.75" width="14.3" height="85.75" fill="url(#hatchB)" stroke="#3a3533" stroke-width="1.2"/>
<line x1="328.7" y1="801.25" x2="328.7" y2="795.5" stroke="#3a3533" stroke-width="1.2"/>
<line x1="325.5" y1="795.5" x2="331.9" y2="795.5" stroke="#3a3533" stroke-width="1.2"/>
<rect x="321.55" y="801.25" width="14.3" height="71.25" fill="#fff"/>
<path d="M321.55 807.65h14.3M321.55 814.25h14.3M321.55 820.85h14.3M321.55 827.45h14.3M321.55 834.05h14.3M321.55 840.65h14.3M321.55 847.25h14.3M321.55 853.85h14.3M321.55 860.45h14.3M321.55 867.05h14.3" stroke="#3c60b4" stroke-width="1.5" fill="none"/>
<rect x="321.55" y="801.25" width="14.3" height="71.25" fill="none" stroke="#3a3533" stroke-width="1.2"/>
<line x1="345" y1="628" x2="345" y2="621.25" stroke="#1f6f3c" stroke-width="1.2"/>
<line x1="341.8" y1="621.25" x2="348.2" y2="621.25" stroke="#1f6f3c" stroke-width="1.2"/>
<rect x="337.85" y="628" width="14.3" height="244.5" fill="#fff"/>
<path d="M337.85 634.3h14.3M337.85 640.6h14.3M337.85 646.9h14.3M337.85 653.2h14.3M337.85 659.5h14.3M337.85 665.8h14.3M337.85 672.1h14.3M337.85 678.4h14.3M337.85 684.7h14.3M337.85 691h14.3M337.85 697.3h14.3M337.85 703.6h14.3M337.85 709.9h14.3M337.85 716.2h14.3M337.85 722.5h14.3M337.85 728.8h14.3M337.85 735.1h14.3M337.85 741.4h14.3M337.85 747.7h14.3M337.85 754h14.3M337.85 760.3h14.3M337.85 766.6h14.3M337.85 772.9h14.3M337.85 779.2h14.3M337.85 785.5h14.3M337.85 791.8h14.3M337.85 798.1h14.3M337.85 804.4h14.3M337.85 810.7h14.3M337.85 817h14.3M337.85 823.3h14.3M337.85 829.6h14.3M337.85 835.9h14.3M337.85 842.2h14.3M337.85 848.5h14.3M337.85 854.8h14.3M337.85 861.1h14.3M337.85 867.4h14.3M343.15 628V872.5M349.85 628V872.5" stroke="#1f6f3c" stroke-width="1.4" fill="none"/>
<rect x="337.85" y="628" width="14.3" height="244.5" fill="none" stroke="#1f6f3c" stroke-width="1.3"/>
<line x1="376.4" y1="773" x2="376.4" y2="768" stroke="#3a3533" stroke-width="1.2"/>
<line x1="373.2" y1="768" x2="379.6" y2="768" stroke="#3a3533" stroke-width="1.2"/>
<rect x="369.25" y="773" width="14.3" height="99.5" fill="url(#dots)" stroke="#3a3533" stroke-width="1.2"/>
<line x1="392.7" y1="763" x2="392.7" y2="758.75" stroke="#3a3533" stroke-width="1.2"/>
<line x1="389.5" y1="758.75" x2="395.9" y2="758.75" stroke="#3a3533" stroke-width="1.2"/>
<rect x="385.55" y="763" width="14.3" height="109.5" fill="url(#hatchF)" stroke="#3a3533" stroke-width="1.2"/>
<line x1="409" y1="763.5" x2="409" y2="759.75" stroke="#3a3533" stroke-width="1.2"/>
<line x1="405.8" y1="759.75" x2="412.2" y2="759.75" stroke="#3a3533" stroke-width="1.2"/>
<rect x="401.85" y="763.5" width="14.3" height="109" fill="url(#hatchB)" stroke="#3a3533" stroke-width="1.2"/>
<line x1="425.3" y1="785" x2="425.3" y2="777.25" stroke="#3a3533" stroke-width="1.2"/>
<line x1="422.1" y1="777.25" x2="428.5" y2="777.25" stroke="#3a3533" stroke-width="1.2"/>
<rect x="418.15" y="785" width="14.3" height="87.5" fill="#fff"/>
<path d="M418.15 791.4h14.3M418.15 798h14.3M418.15 804.6h14.3M418.15 811.2h14.3M418.15 817.8h14.3M418.15 824.4h14.3M418.15 831h14.3M418.15 837.6h14.3M418.15 844.2h14.3M418.15 850.8h14.3M418.15 857.4h14.3M418.15 864h14.3M418.15 870.6h14.3" stroke="#3c60b4" stroke-width="1.5" fill="none"/>
<rect x="418.15" y="785" width="14.3" height="87.5" fill="none" stroke="#3a3533" stroke-width="1.2"/>
<line x1="441.6" y1="590" x2="441.6" y2="579.25" stroke="#1f6f3c" stroke-width="1.2"/>
<line x1="438.4" y1="579.25" x2="444.8" y2="579.25" stroke="#1f6f3c" stroke-width="1.2"/>
<rect x="434.45" y="590" width="14.3" height="282.5" fill="#fff"/>
<path d="M434.45 596.3h14.3M434.45 602.6h14.3M434.45 608.9h14.3M434.45 615.2h14.3M434.45 621.5h14.3M434.45 627.8h14.3M434.45 634.1h14.3M434.45 640.4h14.3M434.45 646.7h14.3M434.45 653h14.3M434.45 659.3h14.3M434.45 665.6h14.3M434.45 671.9h14.3M434.45 678.2h14.3M434.45 684.5h14.3M434.45 690.8h14.3M434.45 697.1h14.3M434.45 703.4h14.3M434.45 709.7h14.3M434.45 716h14.3M434.45 722.3h14.3M434.45 728.6h14.3M434.45 734.9h14.3M434.45 741.2h14.3M434.45 747.5h14.3M434.45 753.8h14.3M434.45 760.1h14.3M434.45 766.4h14.3M434.45 772.7h14.3M434.45 779h14.3M434.45 785.3h14.3M434.45 791.6h14.3M434.45 797.9h14.3M434.45 804.2h14.3M434.45 810.5h14.3M434.45 816.8h14.3M434.45 823.1h14.3M434.45 829.4h14.3M434.45 835.7h14.3M434.45 842h14.3M434.45 848.3h14.3M434.45 854.6h14.3M434.45 860.9h14.3M434.45 867.2h14.3M439.75 590V872.5M446.45 590V872.5" stroke="#1f6f3c" stroke-width="1.4" fill="none"/>
<rect x="434.45" y="590" width="14.3" height="282.5" fill="none" stroke="#1f6f3c" stroke-width="1.3"/>
<line x1="72" y1="515.76" x2="72" y2="873.5" stroke="#000" stroke-width="2.1"/>
<line x1="70.9" y1="872.5" x2="457.5" y2="872.5" stroke="#000" stroke-width="2.2"/>
<line x1="65.5" y1="872.5" x2="72" y2="872.5" stroke="#000" stroke-width="2"/>
<text x="62.5" y="880.3" font-size="23.5" text-anchor="end" textLength="11.04" lengthAdjust="spacingAndGlyphs">0</text>
<line x1="65.5" y1="840.16" x2="72" y2="840.16" stroke="#000" stroke-width="2"/>
<text x="62.5" y="847.96" font-size="23.5" text-anchor="end" textLength="11.04" lengthAdjust="spacingAndGlyphs">2</text>
<line x1="65.5" y1="807.82" x2="72" y2="807.82" stroke="#000" stroke-width="2"/>
<text x="62.5" y="815.62" font-size="23.5" text-anchor="end" textLength="11.04" lengthAdjust="spacingAndGlyphs">4</text>
<line x1="65.5" y1="775.48" x2="72" y2="775.48" stroke="#000" stroke-width="2"/>
<text x="62.5" y="783.28" font-size="23.5" text-anchor="end" textLength="11.04" lengthAdjust="spacingAndGlyphs">6</text>
<line x1="65.5" y1="743.14" x2="72" y2="743.14" stroke="#000" stroke-width="2"/>
<text x="62.5" y="750.94" font-size="23.5" text-anchor="end" textLength="11.04" lengthAdjust="spacingAndGlyphs">8</text>
<line x1="65.5" y1="710.8" x2="72" y2="710.8" stroke="#000" stroke-width="2"/>
<text x="62.5" y="718.6" font-size="23.5" text-anchor="end" textLength="22.09" lengthAdjust="spacingAndGlyphs">10</text>
<line x1="65.5" y1="678.46" x2="72" y2="678.46" stroke="#000" stroke-width="2"/>
<text x="62.5" y="686.26" font-size="23.5" text-anchor="end" textLength="22.09" lengthAdjust="spacingAndGlyphs">12</text>
<line x1="65.5" y1="646.12" x2="72" y2="646.12" stroke="#000" stroke-width="2"/>
<text x="62.5" y="653.92" font-size="23.5" text-anchor="end" textLength="22.09" lengthAdjust="spacingAndGlyphs">14</text>
<line x1="65.5" y1="613.78" x2="72" y2="613.78" stroke="#000" stroke-width="2"/>
<text x="62.5" y="621.58" font-size="23.5" text-anchor="end" textLength="22.09" lengthAdjust="spacingAndGlyphs">16</text>
<line x1="65.5" y1="581.44" x2="72" y2="581.44" stroke="#000" stroke-width="2"/>
<text x="62.5" y="589.24" font-size="23.5" text-anchor="end" textLength="22.09" lengthAdjust="spacingAndGlyphs">18</text>
<line x1="65.5" y1="549.1" x2="72" y2="549.1" stroke="#000" stroke-width="2"/>
<text x="62.5" y="556.9" font-size="23.5" text-anchor="end" textLength="22.09" lengthAdjust="spacingAndGlyphs">20</text>
<line x1="65.5" y1="516.76" x2="72" y2="516.76" stroke="#000" stroke-width="2"/>
<text x="62.5" y="524.56" font-size="23.5" text-anchor="end" textLength="22.09" lengthAdjust="spacingAndGlyphs">22</text>
<line x1="67.7" y1="856.33" x2="72" y2="856.33" stroke="#000" stroke-width="1.6"/>
<line x1="67.7" y1="823.99" x2="72" y2="823.99" stroke="#000" stroke-width="1.6"/>
<line x1="67.7" y1="791.65" x2="72" y2="791.65" stroke="#000" stroke-width="1.6"/>
<line x1="67.7" y1="759.31" x2="72" y2="759.31" stroke="#000" stroke-width="1.6"/>
<line x1="67.7" y1="726.97" x2="72" y2="726.97" stroke="#000" stroke-width="1.6"/>
<line x1="67.7" y1="694.63" x2="72" y2="694.63" stroke="#000" stroke-width="1.6"/>
<line x1="67.7" y1="662.29" x2="72" y2="662.29" stroke="#000" stroke-width="1.6"/>
<line x1="67.7" y1="629.95" x2="72" y2="629.95" stroke="#000" stroke-width="1.6"/>
<line x1="67.7" y1="597.61" x2="72" y2="597.61" stroke="#000" stroke-width="1.6"/>
<line x1="67.7" y1="565.27" x2="72" y2="565.27" stroke="#000" stroke-width="1.6"/>
<line x1="67.7" y1="532.93" x2="72" y2="532.93" stroke="#000" stroke-width="1.6"/>
<line x1="118.75" y1="872.5" x2="118.75" y2="878.5" stroke="#000" stroke-width="2"/>
<text x="118.75" y="904.3" font-size="23.5" text-anchor="middle" textLength="34.38" lengthAdjust="spacingAndGlyphs">25h</text>
<line x1="215" y1="872.5" x2="215" y2="878.5" stroke="#000" stroke-width="2"/>
<text x="215" y="904.3" font-size="23.5" text-anchor="middle" textLength="34.38" lengthAdjust="spacingAndGlyphs">50h</text>
<line x1="311.75" y1="872.5" x2="311.75" y2="878.5" stroke="#000" stroke-width="2"/>
<text x="311.75" y="904.3" font-size="23.5" text-anchor="middle" textLength="45.42" lengthAdjust="spacingAndGlyphs">100h</text>
<line x1="408.25" y1="872.5" x2="408.25" y2="878.5" stroke="#000" stroke-width="2"/>
<text x="408.25" y="904.3" font-size="23.5" text-anchor="middle" textLength="45.42" lengthAdjust="spacingAndGlyphs">300h</text>
<text x="3" y="522" font-size="39.5" text-anchor="start">C</text>
<text x="29.4" y="688.5" font-size="23.2" text-anchor="middle" textLength="326" lengthAdjust="spacingAndGlyphs" transform="rotate(-90 29.4 688.5)">Titratable acidity content (g/L)</text>
<text x="264.75" y="946" font-size="23" text-anchor="middle" textLength="209.5" lengthAdjust="spacingAndGlyphs">Fermentation time (h)</text>
<line x1="85.75" y1="815" x2="155" y2="815" stroke="#555" stroke-width="1.1"/>
<text x="120" y="806.5" font-size="11.5" text-anchor="middle" letter-spacing="1.5" stroke="#000" stroke-width="0.3">ns</text>
<polyline points="250.75,665 250.75,661.75 181.75,661.75 181.75,804.5" fill="none" stroke="#1d1917" stroke-width="1.35"/>
<text x="214.25" y="656.34" font-size="16.5" text-anchor="middle" stroke="#000" stroke-width="0.66" stroke-linejoin="round">****</text>
<line x1="181.75" y1="788.5" x2="234.25" y2="788.5" stroke="#1d1917" stroke-width="1.35"/>
<text x="208" y="779.75" font-size="11.5" text-anchor="middle" letter-spacing="1.5" stroke="#000" stroke-width="0.3">ns</text>
<polyline points="347.5,620 347.5,614.5 277.5,614.5 277.5,790.5" fill="none" stroke="#1d1917" stroke-width="1.35"/>
<text x="310.75" y="609.34" font-size="16.5" text-anchor="middle" stroke="#000" stroke-width="0.66" stroke-linejoin="round">****</text>
<line x1="277.5" y1="775.5" x2="330.5" y2="775.5" stroke="#1d1917" stroke-width="1.35"/>
<text x="304.25" y="766.75" font-size="11.5" text-anchor="middle" letter-spacing="1.5" stroke="#000" stroke-width="0.3">ns</text>
<polyline points="443.75,578.75 443.75,574.25 373.75,574.25 373.75,766" fill="none" stroke="#1d1917" stroke-width="1.35"/>
<text x="407" y="569.34" font-size="16.5" text-anchor="middle" stroke="#000" stroke-width="0.66" stroke-linejoin="round">****</text>
<line x1="373.75" y1="755" x2="425" y2="755" stroke="#1d1917" stroke-width="1.35"/>
<text x="400" y="746" font-size="11.5" text-anchor="middle" letter-spacing="1.5" stroke="#000" stroke-width="0.3">ns</text>
<line x1="599.1" y1="744.25" x2="599.1" y2="740.5" stroke="#3a3533" stroke-width="1.2"/>
<line x1="595.9" y1="740.5" x2="602.3" y2="740.5" stroke="#3a3533" stroke-width="1.2"/>
<rect x="591.95" y="744.25" width="14.3" height="128.25" fill="url(#dots)" stroke="#3a3533" stroke-width="1.2"/>
<line x1="614.95" y1="675.5" x2="614.95" y2="667.5" stroke="#3a3533" stroke-width="1.2"/>
<line x1="611.75" y1="667.5" x2="618.15" y2="667.5" stroke="#3a3533" stroke-width="1.2"/>
<rect x="607.8" y="675.5" width="14.3" height="197" fill="url(#hatchF)" stroke="#3a3533" stroke-width="1.2"/>
<line x1="630.8" y1="711.75" x2="630.8" y2="705.75" stroke="#3a3533" stroke-width="1.2"/>
<line x1="627.6" y1="705.75" x2="634" y2="705.75" stroke="#3a3533" stroke-width="1.2"/>
<rect x="623.65" y="711.75" width="14.3" height="160.75" fill="url(#hatchB)" stroke="#3a3533" stroke-width="1.2"/>
<line x1="646.65" y1="769.75" x2="646.65" y2="762.25" stroke="#3a3533" stroke-width="1.2"/>
<line x1="643.45" y1="762.25" x2="649.85" y2="762.25" stroke="#3a3533" stroke-width="1.2"/>
<rect x="639.5" y="769.75" width="14.3" height="102.75" fill="#fff"/>
<path d="M639.5 776.15h14.3M639.5 782.75h14.3M639.5 789.35h14.3M639.5 795.95h14.3M639.5 802.55h14.3M639.5 809.15h14.3M639.5 815.75h14.3M639.5 822.35h14.3M639.5 828.95h14.3M639.5 835.55h14.3M639.5 842.15h14.3M639.5 848.75h14.3M639.5 855.35h14.3M639.5 861.95h14.3M639.5 868.55h14.3" stroke="#3c60b4" stroke-width="1.5" fill="none"/>
<rect x="639.5" y="769.75" width="14.3" height="102.75" fill="none" stroke="#3a3533" stroke-width="1.2"/>
<line x1="662.5" y1="865.5" x2="662.5" y2="863" stroke="#1f6f3c" stroke-width="1.2"/>
<line x1="659.3" y1="863" x2="665.7" y2="863" stroke="#1f6f3c" stroke-width="1.2"/>
<rect x="655.35" y="865.5" width="14.3" height="7" fill="#fff"/>
<path d="M660.65 865.5V872.5M667.35 865.5V872.5" stroke="#1f6f3c" stroke-width="1.4" fill="none"/>
<rect x="655.35" y="865.5" width="14.3" height="7" fill="none" stroke="#1f6f3c" stroke-width="1.3"/>
<line x1="692.3" y1="733.75" x2="692.3" y2="721.75" stroke="#3a3533" stroke-width="1.2"/>
<line x1="689.1" y1="721.75" x2="695.5" y2="721.75" stroke="#3a3533" stroke-width="1.2"/>
<rect x="685.15" y="733.75" width="14.3" height="138.75" fill="url(#dots)" stroke="#3a3533" stroke-width="1.2"/>
<line x1="708.15" y1="633.5" x2="708.15" y2="626.25" stroke="#3a3533" stroke-width="1.2"/>
<line x1="704.95" y1="626.25" x2="711.35" y2="626.25" stroke="#3a3533" stroke-width="1.2"/>
<rect x="701" y="633.5" width="14.3" height="239" fill="url(#hatchF)" stroke="#3a3533" stroke-width="1.2"/>
<line x1="724" y1="665.5" x2="724" y2="647.5" stroke="#3a3533" stroke-width="1.2"/>
<line x1="720.8" y1="647.5" x2="727.2" y2="647.5" stroke="#3a3533" stroke-width="1.2"/>
<rect x="716.85" y="665.5" width="14.3" height="207" fill="url(#hatchB)" stroke="#3a3533" stroke-width="1.2"/>
<line x1="739.85" y1="737.25" x2="739.85" y2="728.75" stroke="#3a3533" stroke-width="1.2"/>
<line x1="736.65" y1="728.75" x2="743.05" y2="728.75" stroke="#3a3533" stroke-width="1.2"/>
<rect x="732.7" y="737.25" width="14.3" height="135.25" fill="#fff"/>
<path d="M732.7 743.65h14.3M732.7 750.25h14.3M732.7 756.85h14.3M732.7 763.45h14.3M732.7 770.05h14.3M732.7 776.65h14.3M732.7 783.25h14.3M732.7 789.85h14.3M732.7 796.45h14.3M732.7 803.05h14.3M732.7 809.65h14.3M732.7 816.25h14.3M732.7 822.85h14.3M732.7 829.45h14.3M732.7 836.05h14.3M732.7 842.65h14.3M732.7 849.25h14.3M732.7 855.85h14.3M732.7 862.45h14.3M732.7 869.05h14.3" stroke="#3c60b4" stroke-width="1.5" fill="none"/>
<rect x="732.7" y="737.25" width="14.3" height="135.25" fill="none" stroke="#3a3533" stroke-width="1.2"/>
<rect x="748.55" y="831" width="14.3" height="41.5" fill="#fff"/>
<path d="M748.55 837.3h14.3M748.55 843.6h14.3M748.55 849.9h14.3M748.55 856.2h14.3M748.55 862.5h14.3M748.55 868.8h14.3M753.85 831V872.5M760.55 831V872.5" stroke="#1f6f3c" stroke-width="1.4" fill="none"/>
<rect x="748.55" y="831" width="14.3" height="41.5" fill="none" stroke="#1f6f3c" stroke-width="1.3"/>
<line x1="785.5" y1="698.25" x2="785.5" y2="689.5" stroke="#3a3533" stroke-width="1.2"/>
<line x1="782.3" y1="689.5" x2="788.7" y2="689.5" stroke="#3a3533" stroke-width="1.2"/>
<rect x="778.35" y="698.25" width="14.3" height="174.25" fill="url(#dots)" stroke="#3a3533" stroke-width="1.2"/>
<line x1="801.35" y1="605" x2="801.35" y2="593" stroke="#3a3533" stroke-width="1.2"/>
<line x1="798.15" y1="593" x2="804.55" y2="593" stroke="#3a3533" stroke-width="1.2"/>
<rect x="794.2" y="605" width="14.3" height="267.5" fill="url(#hatchF)" stroke="#3a3533" stroke-width="1.2"/>
<line x1="817.2" y1="628" x2="817.2" y2="607.5" stroke="#3a3533" stroke-width="1.2"/>
<line x1="814" y1="607.5" x2="820.4" y2="607.5" stroke="#3a3533" stroke-width="1.2"/>
<rect x="810.05" y="628" width="14.3" height="244.5" fill="url(#hatchB)" stroke="#3a3533" stroke-width="1.2"/>
<line x1="833.05" y1="696.5" x2="833.05" y2="685.5" stroke="#3a3533" stroke-width="1.2"/>
<line x1="829.85" y1="685.5" x2="836.25" y2="685.5" stroke="#3a3533" stroke-width="1.2"/>
<rect x="825.9" y="696.5" width="14.3" height="176" fill="#fff"/>
<path d="M825.9 702.9h14.3M825.9 709.5h14.3M825.9 716.1h14.3M825.9 722.7h14.3M825.9 729.3h14.3M825.9 735.9h14.3M825.9 742.5h14.3M825.9 749.1h14.3M825.9 755.7h14.3M825.9 762.3h14.3M825.9 768.9h14.3M825.9 775.5h14.3M825.9 782.1h14.3M825.9 788.7h14.3M825.9 795.3h14.3M825.9 801.9h14.3M825.9 808.5h14.3M825.9 815.1h14.3M825.9 821.7h14.3M825.9 828.3h14.3M825.9 834.9h14.3M825.9 841.5h14.3M825.9 848.1h14.3M825.9 854.7h14.3M825.9 861.3h14.3M825.9 867.9h14.3" stroke="#3c60b4" stroke-width="1.5" fill="none"/>
<rect x="825.9" y="696.5" width="14.3" height="176" fill="none" stroke="#3a3533" stroke-width="1.2"/>
<line x1="848.9" y1="831" x2="848.9" y2="818" stroke="#1f6f3c" stroke-width="1.2"/>
<line x1="845.7" y1="818" x2="852.1" y2="818" stroke="#1f6f3c" stroke-width="1.2"/>
<rect x="841.75" y="831" width="14.3" height="41.5" fill="#fff"/>
<path d="M841.75 837.3h14.3M841.75 843.6h14.3M841.75 849.9h14.3M841.75 856.2h14.3M841.75 862.5h14.3M841.75 868.8h14.3M847.05 831V872.5M853.75 831V872.5" stroke="#1f6f3c" stroke-width="1.4" fill="none"/>
<rect x="841.75" y="831" width="14.3" height="41.5" fill="none" stroke="#1f6f3c" stroke-width="1.3"/>
<line x1="878.8" y1="660.5" x2="878.8" y2="638.25" stroke="#3a3533" stroke-width="1.2"/>
<line x1="875.6" y1="638.25" x2="882" y2="638.25" stroke="#3a3533" stroke-width="1.2"/>
<rect x="871.65" y="660.5" width="14.3" height="212" fill="url(#dots)" stroke="#3a3533" stroke-width="1.2"/>
<line x1="894.65" y1="582.5" x2="894.65" y2="575.5" stroke="#3a3533" stroke-width="1.2"/>
<line x1="891.45" y1="575.5" x2="897.85" y2="575.5" stroke="#3a3533" stroke-width="1.2"/>
<rect x="887.5" y="582.5" width="14.3" height="290" fill="url(#hatchF)" stroke="#3a3533" stroke-width="1.2"/>
<line x1="910.5" y1="620" x2="910.5" y2="613.25" stroke="#3a3533" stroke-width="1.2"/>
<line x1="907.3" y1="613.25" x2="913.7" y2="613.25" stroke="#3a3533" stroke-width="1.2"/>
<rect x="903.35" y="620" width="14.3" height="252.5" fill="url(#hatchB)" stroke="#3a3533" stroke-width="1.2"/>
<line x1="926.35" y1="650" x2="926.35" y2="643" stroke="#3a3533" stroke-width="1.2"/>
<line x1="923.15" y1="643" x2="929.55" y2="643" stroke="#3a3533" stroke-width="1.2"/>
<rect x="919.2" y="650" width="14.3" height="222.5" fill="#fff"/>
<path d="M919.2 656.4h14.3M919.2 663h14.3M919.2 669.6h14.3M919.2 676.2h14.3M919.2 682.8h14.3M919.2 689.4h14.3M919.2 696h14.3M919.2 702.6h14.3M919.2 709.2h14.3M919.2 715.8h14.3M919.2 722.4h14.3M919.2 729h14.3M919.2 735.6h14.3M919.2 742.2h14.3M919.2 748.8h14.3M919.2 755.4h14.3M919.2 762h14.3M919.2 768.6h14.3M919.2 775.2h14.3M919.2 781.8h14.3M919.2 788.4h14.3M919.2 795h14.3M919.2 801.6h14.3M919.2 808.2h14.3M919.2 814.8h14.3M919.2 821.4h14.3M919.2 828h14.3M919.2 834.6h14.3M919.2 841.2h14.3M919.2 847.8h14.3M919.2 854.4h14.3M919.2 861h14.3M919.2 867.6h14.3" stroke="#3c60b4" stroke-width="1.5" fill="none"/>
<rect x="919.2" y="650" width="14.3" height="222.5" fill="none" stroke="#3a3533" stroke-width="1.2"/>
<line x1="942.2" y1="770.5" x2="942.2" y2="764.25" stroke="#1f6f3c" stroke-width="1.2"/>
<line x1="939" y1="764.25" x2="945.4" y2="764.25" stroke="#1f6f3c" stroke-width="1.2"/>
<rect x="935.05" y="770.5" width="14.3" height="102" fill="#fff"/>
<path d="M935.05 776.8h14.3M935.05 783.1h14.3M935.05 789.4h14.3M935.05 795.7h14.3M935.05 802h14.3M935.05 808.3h14.3M935.05 814.6h14.3M935.05 820.9h14.3M935.05 827.2h14.3M935.05 833.5h14.3M935.05 839.8h14.3M935.05 846.1h14.3M935.05 852.4h14.3M935.05 858.7h14.3M935.05 865h14.3M935.05 871.3h14.3M940.35 770.5V872.5M947.05 770.5V872.5" stroke="#1f6f3c" stroke-width="1.4" fill="none"/>
<rect x="935.05" y="770.5" width="14.3" height="102" fill="none" stroke="#1f6f3c" stroke-width="1.3"/>
<line x1="583.75" y1="527.7" x2="583.75" y2="873.5" stroke="#000" stroke-width="2.1"/>
<line x1="582.65" y1="872.5" x2="957.5" y2="872.5" stroke="#000" stroke-width="2.2"/>
<line x1="577.25" y1="872.5" x2="583.75" y2="872.5" stroke="#000" stroke-width="2"/>
<text x="574.25" y="880.3" font-size="22.9" text-anchor="end" textLength="26.91" lengthAdjust="spacingAndGlyphs">0.0</text>
<line x1="577.25" y1="803.74" x2="583.75" y2="803.74" stroke="#000" stroke-width="2"/>
<text x="574.25" y="811.54" font-size="22.9" text-anchor="end" textLength="26.91" lengthAdjust="spacingAndGlyphs">0.4</text>
<line x1="577.25" y1="734.98" x2="583.75" y2="734.98" stroke="#000" stroke-width="2"/>
<text x="574.25" y="742.78" font-size="22.9" text-anchor="end" textLength="26.91" lengthAdjust="spacingAndGlyphs">0.8</text>
<line x1="577.25" y1="666.22" x2="583.75" y2="666.22" stroke="#000" stroke-width="2"/>
<text x="574.25" y="674.02" font-size="22.9" text-anchor="end" textLength="26.91" lengthAdjust="spacingAndGlyphs">1.2</text>
<line x1="577.25" y1="597.46" x2="583.75" y2="597.46" stroke="#000" stroke-width="2"/>
<text x="574.25" y="605.26" font-size="22.9" text-anchor="end" textLength="26.91" lengthAdjust="spacingAndGlyphs">1.6</text>
<line x1="577.25" y1="528.7" x2="583.75" y2="528.7" stroke="#000" stroke-width="2"/>
<text x="574.25" y="536.5" font-size="22.9" text-anchor="end" textLength="26.91" lengthAdjust="spacingAndGlyphs">2.0</text>
<line x1="579.45" y1="838.12" x2="583.75" y2="838.12" stroke="#000" stroke-width="1.6"/>
<line x1="579.45" y1="769.36" x2="583.75" y2="769.36" stroke="#000" stroke-width="1.6"/>
<line x1="579.45" y1="700.6" x2="583.75" y2="700.6" stroke="#000" stroke-width="1.6"/>
<line x1="579.45" y1="631.84" x2="583.75" y2="631.84" stroke="#000" stroke-width="1.6"/>
<line x1="579.45" y1="563.08" x2="583.75" y2="563.08" stroke="#000" stroke-width="1.6"/>
<line x1="630" y1="872.5" x2="630" y2="878.5" stroke="#000" stroke-width="2"/>
<text x="630" y="903.4" font-size="22.9" text-anchor="middle" textLength="33.5" lengthAdjust="spacingAndGlyphs">25h</text>
<line x1="723.25" y1="872.5" x2="723.25" y2="878.5" stroke="#000" stroke-width="2"/>
<text x="723.25" y="903.4" font-size="22.9" text-anchor="middle" textLength="33.5" lengthAdjust="spacingAndGlyphs">50h</text>
<line x1="816.25" y1="872.5" x2="816.25" y2="878.5" stroke="#000" stroke-width="2"/>
<text x="816.25" y="903.4" font-size="22.9" text-anchor="middle" textLength="44.26" lengthAdjust="spacingAndGlyphs">100h</text>
<line x1="909.5" y1="872.5" x2="909.5" y2="878.5" stroke="#000" stroke-width="2"/>
<text x="909.5" y="903.4" font-size="22.9" text-anchor="middle" textLength="44.26" lengthAdjust="spacingAndGlyphs">300h</text>
<text x="519.5" y="522" font-size="36.5" text-anchor="start">D</text>
<text x="538.3" y="694.7" font-size="23.2" text-anchor="middle" textLength="341.5" lengthAdjust="spacingAndGlyphs" transform="rotate(-90 538.3 694.7)">Amino acid nitrogen content (g/L)</text>
<text x="770.6" y="944.2" font-size="23.5" text-anchor="middle" textLength="202.5" lengthAdjust="spacingAndGlyphs">Fermentation time (h)</text>
<polyline points="596.75,740 596.75,581.25 661.75,581.25 661.75,859.5" fill="none" stroke="#1d1917" stroke-width="1.35"/>
<text x="627.5" y="575.84" font-size="16.5" text-anchor="middle" stroke="#000" stroke-width="0.66" stroke-linejoin="round">****</text>
<polyline points="596.75,609.25 646.25,609.25 646.25,761.75" fill="none" stroke="#1d1917" stroke-width="1.35"/>
<text x="621.25" y="600.5" font-size="11.5" text-anchor="middle" letter-spacing="1.5" stroke="#000" stroke-width="0.3">ns</text>
<polyline points="596.75,636.75 630,636.75 630,705" fill="none" stroke="#1d1917" stroke-width="1.35"/>
<text x="612.5" y="631.84" font-size="16.5" text-anchor="middle" stroke="#000" stroke-width="0.66" stroke-linejoin="round">*</text>
<polyline points="596.75,666.75 615,666.75" fill="none" stroke="#1d1917" stroke-width="1.35"/>
<text x="613" y="661.84" font-size="16.5" text-anchor="middle" stroke="#000" stroke-width="0.66" stroke-linejoin="round">****</text>
<polyline points="690.5,721 690.5,568 755,568 755,824.5" fill="none" stroke="#1d1917" stroke-width="1.35"/>
<text x="721.25" y="563.34" font-size="16.5" text-anchor="middle" stroke="#000" stroke-width="0.66" stroke-linejoin="round">****</text>
<polyline points="690.5,591.25 740,591.25 740,727.5" fill="none" stroke="#444" stroke-width="1.1"/>
<text x="715" y="583" font-size="11.5" text-anchor="middle" letter-spacing="1.5" stroke="#000" stroke-width="0.3">ns</text>
<polyline points="690.5,618.75 720,618.75 720,622.5" fill="none" stroke="#1d1917" stroke-width="1.35"/>
<polyline points="706.25,622.5 723.25,622.5 723.25,641.5" fill="none" stroke="#1d1917" stroke-width="1.35"/>
<text x="712" y="615.09" font-size="16.5" text-anchor="middle" stroke="#000" stroke-width="0.66" stroke-linejoin="round">****</text>
<polyline points="783.75,689 783.75,541.75 848.75,541.75 848.75,817" fill="none" stroke="#1d1917" stroke-width="1.35"/>
<text x="814.5" y="537.09" font-size="16.5" text-anchor="middle" stroke="#000" stroke-width="0.66" stroke-linejoin="round">****</text>
<polyline points="783.75,565.75 833,565.75 833,685" fill="none" stroke="#1d1917" stroke-width="1.35"/>
<text x="808" y="557.25" font-size="11.5" text-anchor="middle" letter-spacing="1.5" stroke="#000" stroke-width="0.3">ns</text>
<polyline points="783.75,588.3 808.75,588.3 808.75,590.2" fill="none" stroke="#888" stroke-width="1"/>
<polyline points="802.5,590.2 817,590.2 817,605" fill="none" stroke="#1d1917" stroke-width="1.35"/>
<text x="804.5" y="583.09" font-size="16.5" text-anchor="middle" stroke="#000" stroke-width="0.66" stroke-linejoin="round">****</text>
<polyline points="875,638.25 875,517.5 941.25,517.5 941.25,759.5" fill="none" stroke="#1d1917" stroke-width="1.35"/>
<text x="906.75" y="513.09" font-size="16.5" text-anchor="middle" stroke="#000" stroke-width="0.66" stroke-linejoin="round">****</text>
<polyline points="875,536.25 926.25,536.25 926.25,642.5" fill="none" stroke="#1d1917" stroke-width="1.35"/>
<text x="900.75" y="528" font-size="11.5" text-anchor="middle" letter-spacing="1.5" stroke="#000" stroke-width="0.3">ns</text>
<polyline points="875,556.25 916.25,556.25 916.25,612.5" fill="none" stroke="#1d1917" stroke-width="1.35"/>
<text x="894.25" y="551.34" font-size="16.5" text-anchor="middle" stroke="#000" stroke-width="0.66" stroke-linejoin="round">***</text>
<polyline points="875,575.25 895,575.25" fill="none" stroke="#1d1917" stroke-width="1.35"/>
<text x="891.25" y="570.84" font-size="16.5" text-anchor="middle" stroke="#000" stroke-width="0.66" stroke-linejoin="round">****</text>
<rect x="30.8" y="970.2" width="26.4" height="16.4" fill="url(#dotsL)" stroke="#1a1715" stroke-width="1.5" rx="1.2"/>
<rect x="36" y="975.1" width="1.4" height="1.4" fill="#2a2a2a"/>
<rect x="40.15" y="975.1" width="1.4" height="1.4" fill="#2a2a2a"/>
<rect x="44.3" y="975.1" width="1.4" height="1.4" fill="#2a2a2a"/>
<rect x="48.45" y="975.1" width="1.4" height="1.4" fill="#2a2a2a"/>
<rect x="52.6" y="975.1" width="1.4" height="1.4" fill="#2a2a2a"/>
<rect x="36" y="980.3" width="1.4" height="1.4" fill="#2a2a2a"/>
<rect x="40.15" y="980.3" width="1.4" height="1.4" fill="#2a2a2a"/>
<rect x="44.3" y="980.3" width="1.4" height="1.4" fill="#2a2a2a"/>
<rect x="48.45" y="980.3" width="1.4" height="1.4" fill="#2a2a2a"/>
<rect x="52.6" y="980.3" width="1.4" height="1.4" fill="#2a2a2a"/>
<rect x="36" y="971" width="1.2" height="0.8" fill="#666"/>
<rect x="40.15" y="971" width="1.2" height="0.8" fill="#666"/>
<rect x="44.3" y="971" width="1.2" height="0.8" fill="#666"/>
<rect x="48.45" y="971" width="1.2" height="0.8" fill="#666"/>
<rect x="52.6" y="971" width="1.2" height="0.8" fill="#666"/>
<text x="71.5" y="986.3" font-size="25.5" text-anchor="start" textLength="111.8" lengthAdjust="spacingAndGlyphs">TF Control</text>
<rect x="200.4" y="970.2" width="26.4" height="16.4" fill="url(#hatchFL)" stroke="#1a1715" stroke-width="1.5" rx="1.2"/>
<text x="241.8" y="986.3" font-size="25.5" textLength="152" lengthAdjust="spacingAndGlyphs"><tspan font-style="italic">A. flavus</tspan> SU-16</text>
<rect x="411.8" y="970.2" width="26.4" height="16.4" fill="url(#hatchBL)" stroke="#1a1715" stroke-width="1.5" rx="1.2"/>
<text x="452.4" y="986.3" font-size="25.5" textLength="132" lengthAdjust="spacingAndGlyphs"><tspan font-style="italic">A. oryzae</tspan> MQ</text>
<rect x="602.2" y="970.2" width="26.4" height="16.4" fill="url(#hlinesL)" stroke="#1a1715" stroke-width="1.5" rx="1.2"/>
<text x="641.7" y="986.3" font-size="25.5" textLength="123.5" lengthAdjust="spacingAndGlyphs"><tspan font-style="italic">S. hirsuta</tspan> J2</text>
<rect x="783.2" y="970.2" width="26.4" height="16.4" fill="url(#gridL)" stroke="#1f6f3c" stroke-width="1.5" rx="1.2"/>
<text x="823.7" y="986.3" font-size="25.5" textLength="187" lengthAdjust="spacingAndGlyphs"><tspan font-style="italic">L. plantarum</tspan> JN01</text>
<g shape-rendering="crispEdges">
<rect x="1042" y="150.4" width="41.72" height="22.68" fill="#8397ac"/>
<rect x="1083.42" y="150.4" width="41.72" height="22.68" fill="#7a90aa"/>
<rect x="1124.83" y="150.4" width="41.72" height="22.68" fill="#a0afb3"/>
<rect x="1176.25" y="150.4" width="41.72" height="22.68" fill="#ced4bf"/>
<rect x="1217.67" y="150.4" width="41.72" height="22.68" fill="#ced4bf"/>
<rect x="1259.08" y="150.4" width="41.72" height="22.68" fill="#dbdfc2"/>
<rect x="1310.2" y="150.4" width="41.72" height="22.68" fill="#a8b6b5"/>
<rect x="1351.62" y="150.4" width="41.72" height="22.68" fill="#d2d8c0"/>
<rect x="1393.03" y="150.4" width="41.72" height="22.68" fill="#d2d8c0"/>
<rect x="1444.5" y="150.4" width="41.72" height="22.68" fill="#f4b072"/>
<rect x="1485.92" y="150.4" width="41.72" height="22.68" fill="#f29c5b"/>
<rect x="1527.33" y="150.4" width="41.72" height="22.68" fill="#f4b072"/>
<rect x="1578.75" y="150.4" width="41.72" height="22.68" fill="#f7cd96"/>
<rect x="1620.17" y="150.4" width="41.72" height="22.68" fill="#f6c48b"/>
<rect x="1661.58" y="150.4" width="41.72" height="22.68" fill="#f7ca92"/>
<rect x="1042" y="172.78" width="41.72" height="22.68" fill="#8fa1af"/>
<rect x="1083.42" y="172.78" width="41.72" height="22.68" fill="#7a90aa"/>
<rect x="1124.83" y="172.78" width="41.72" height="22.68" fill="#7a90aa"/>
<rect x="1176.25" y="172.78" width="41.72" height="22.68" fill="#ced4bf"/>
<rect x="1217.67" y="172.78" width="41.72" height="22.68" fill="#c1cabc"/>
<rect x="1259.08" y="172.78" width="41.72" height="22.68" fill="#ebecc7"/>
<rect x="1310.2" y="172.78" width="41.72" height="22.68" fill="#c1cabc"/>
<rect x="1351.62" y="172.78" width="41.72" height="22.68" fill="#dbdfc2"/>
<rect x="1393.03" y="172.78" width="41.72" height="22.68" fill="#e3e5c5"/>
<rect x="1444.5" y="172.78" width="41.72" height="22.68" fill="#f3aa6b"/>
<rect x="1485.92" y="172.78" width="41.72" height="22.68" fill="#f19857"/>
<rect x="1527.33" y="172.78" width="41.72" height="22.68" fill="#f3aa6b"/>
<rect x="1578.75" y="172.78" width="41.72" height="22.68" fill="#f8d9a4"/>
<rect x="1620.17" y="172.78" width="41.72" height="22.68" fill="#f8d099"/>
<rect x="1661.58" y="172.78" width="41.72" height="22.68" fill="#f7cd96"/>
<rect x="1042" y="195.16" width="41.72" height="22.68" fill="#ed7128"/>
<rect x="1083.42" y="195.16" width="41.72" height="22.68" fill="#f3aa6b"/>
<rect x="1124.83" y="195.16" width="41.72" height="22.68" fill="#f3a464"/>
<rect x="1176.25" y="195.16" width="41.72" height="22.68" fill="#b9c3ba"/>
<rect x="1217.67" y="195.16" width="41.72" height="22.68" fill="#d2d8c0"/>
<rect x="1259.08" y="195.16" width="41.72" height="22.68" fill="#c1cabc"/>
<rect x="1310.2" y="195.16" width="41.72" height="22.68" fill="#b9c3ba"/>
<rect x="1351.62" y="195.16" width="41.72" height="22.68" fill="#a0afb3"/>
<rect x="1393.03" y="195.16" width="41.72" height="22.68" fill="#b1bcb8"/>
<rect x="1444.5" y="195.16" width="41.72" height="22.68" fill="#ebecc7"/>
<rect x="1485.92" y="195.16" width="41.72" height="22.68" fill="#f4f3c9"/>
<rect x="1527.33" y="195.16" width="41.72" height="22.68" fill="#ebecc7"/>
<rect x="1578.75" y="195.16" width="41.72" height="22.68" fill="#dfe2c3"/>
<rect x="1620.17" y="195.16" width="41.72" height="22.68" fill="#f8d099"/>
<rect x="1661.58" y="195.16" width="41.72" height="22.68" fill="#b9c3ba"/>
<rect x="1042" y="217.54" width="41.72" height="22.68" fill="#516e9f"/>
<rect x="1083.42" y="217.54" width="41.72" height="22.68" fill="#3c5d99"/>
<rect x="1124.83" y="217.54" width="41.72" height="22.68" fill="#48679d"/>
<rect x="1176.25" y="217.54" width="41.72" height="22.68" fill="#fae3b0"/>
<rect x="1217.67" y="217.54" width="41.72" height="22.68" fill="#f9dfab"/>
<rect x="1259.08" y="217.54" width="41.72" height="22.68" fill="#f8d6a1"/>
<rect x="1310.2" y="217.54" width="41.72" height="22.68" fill="#f7ca92"/>
<rect x="1351.62" y="217.54" width="41.72" height="22.68" fill="#fcfacb"/>
<rect x="1393.03" y="217.54" width="41.72" height="22.68" fill="#fae3b0"/>
<rect x="1444.5" y="217.54" width="41.72" height="22.68" fill="#f6c188"/>
<rect x="1485.92" y="217.54" width="41.72" height="22.68" fill="#f5b87d"/>
<rect x="1527.33" y="217.54" width="41.72" height="22.68" fill="#f6be84"/>
<rect x="1578.75" y="217.54" width="41.72" height="22.68" fill="#fbf4c4"/>
<rect x="1620.17" y="217.54" width="41.72" height="22.68" fill="#fbecbb"/>
<rect x="1661.58" y="217.54" width="41.72" height="22.68" fill="#f4f3c9"/>
<rect x="1042" y="239.92" width="41.72" height="22.68" fill="#5975a1"/>
<rect x="1083.42" y="239.92" width="41.72" height="22.68" fill="#5975a1"/>
<rect x="1124.83" y="239.92" width="41.72" height="22.68" fill="#3c5d99"/>
<rect x="1176.25" y="239.92" width="41.72" height="22.68" fill="#f9dfab"/>
<rect x="1217.67" y="239.92" width="41.72" height="22.68" fill="#f3aa6b"/>
<rect x="1259.08" y="239.92" width="41.72" height="22.68" fill="#f4b276"/>
<rect x="1310.2" y="239.92" width="41.72" height="22.68" fill="#f7c78f"/>
<rect x="1351.62" y="239.92" width="41.72" height="22.68" fill="#f9dca8"/>
<rect x="1393.03" y="239.92" width="41.72" height="22.68" fill="#fae3b0"/>
<rect x="1444.5" y="239.92" width="41.72" height="22.68" fill="#fbecbb"/>
<rect x="1485.92" y="239.92" width="41.72" height="22.68" fill="#fbf4c4"/>
<rect x="1527.33" y="239.92" width="41.72" height="22.68" fill="#fbecbb"/>
<rect x="1578.75" y="239.92" width="41.72" height="22.68" fill="#f4f3c9"/>
<rect x="1620.17" y="239.92" width="41.72" height="22.68" fill="#f4f3c9"/>
<rect x="1661.58" y="239.92" width="41.72" height="22.68" fill="#fbecbb"/>
<rect x="1042" y="262.3" width="41.72" height="22.68" fill="#7289a7"/>
<rect x="1083.42" y="262.3" width="41.72" height="22.68" fill="#667fa4"/>
<rect x="1124.83" y="262.3" width="41.72" height="22.68" fill="#7289a7"/>
<rect x="1176.25" y="262.3" width="41.72" height="22.68" fill="#b9c3ba"/>
<rect x="1217.67" y="262.3" width="41.72" height="22.68" fill="#e3e5c5"/>
<rect x="1259.08" y="262.3" width="41.72" height="22.68" fill="#cad1be"/>
<rect x="1310.2" y="262.3" width="41.72" height="22.68" fill="#f8f7ca"/>
<rect x="1351.62" y="262.3" width="41.72" height="22.68" fill="#fcfacb"/>
<rect x="1393.03" y="262.3" width="41.72" height="22.68" fill="#f8f7ca"/>
<rect x="1444.5" y="262.3" width="41.72" height="22.68" fill="#f8d6a1"/>
<rect x="1485.92" y="262.3" width="41.72" height="22.68" fill="#f7cd96"/>
<rect x="1527.33" y="262.3" width="41.72" height="22.68" fill="#f8d6a1"/>
<rect x="1578.75" y="262.3" width="41.72" height="22.68" fill="#f4ad6f"/>
<rect x="1620.17" y="262.3" width="41.72" height="22.68" fill="#f3aa6b"/>
<rect x="1661.58" y="262.3" width="41.72" height="22.68" fill="#f3a464"/>
<rect x="1042" y="284.68" width="41.72" height="22.68" fill="#f29c5b"/>
<rect x="1083.42" y="284.68" width="41.72" height="22.68" fill="#f6c188"/>
<rect x="1124.83" y="284.68" width="41.72" height="22.68" fill="#ed6e25"/>
<rect x="1176.25" y="284.68" width="41.72" height="22.68" fill="#e7e9c6"/>
<rect x="1217.67" y="284.68" width="41.72" height="22.68" fill="#c1cabc"/>
<rect x="1259.08" y="284.68" width="41.72" height="22.68" fill="#b1bcb8"/>
<rect x="1310.2" y="284.68" width="41.72" height="22.68" fill="#adb9b6"/>
<rect x="1351.62" y="284.68" width="41.72" height="22.68" fill="#879aad"/>
<rect x="1393.03" y="284.68" width="41.72" height="22.68" fill="#eff0c8"/>
<rect x="1444.5" y="284.68" width="41.72" height="22.68" fill="#fbeebd"/>
<rect x="1485.92" y="284.68" width="41.72" height="22.68" fill="#d6dbc1"/>
<rect x="1527.33" y="284.68" width="41.72" height="22.68" fill="#fbf1c0"/>
<rect x="1578.75" y="284.68" width="41.72" height="22.68" fill="#dfe2c3"/>
<rect x="1620.17" y="284.68" width="41.72" height="22.68" fill="#d2d8c0"/>
<rect x="1661.58" y="284.68" width="41.72" height="22.68" fill="#dfe2c3"/>
<rect x="1042" y="307.06" width="41.72" height="22.68" fill="#98a8b1"/>
<rect x="1083.42" y="307.06" width="41.72" height="22.68" fill="#8b9eae"/>
<rect x="1124.83" y="307.06" width="41.72" height="22.68" fill="#98a8b1"/>
<rect x="1176.25" y="307.06" width="41.72" height="22.68" fill="#f5b57a"/>
<rect x="1217.67" y="307.06" width="41.72" height="22.68" fill="#f4b072"/>
<rect x="1259.08" y="307.06" width="41.72" height="22.68" fill="#f5b57a"/>
<rect x="1310.2" y="307.06" width="41.72" height="22.68" fill="#f3aa6b"/>
<rect x="1351.62" y="307.06" width="41.72" height="22.68" fill="#f6c188"/>
<rect x="1393.03" y="307.06" width="41.72" height="22.68" fill="#f5b57a"/>
<rect x="1444.5" y="307.06" width="41.72" height="22.68" fill="#c1cabc"/>
<rect x="1485.92" y="307.06" width="41.72" height="22.68" fill="#a8b6b5"/>
<rect x="1527.33" y="307.06" width="41.72" height="22.68" fill="#bdc7bb"/>
<rect x="1578.75" y="307.06" width="41.72" height="22.68" fill="#e3e5c5"/>
<rect x="1620.17" y="307.06" width="41.72" height="22.68" fill="#c1cabc"/>
<rect x="1661.58" y="307.06" width="41.72" height="22.68" fill="#dbdfc2"/>
<rect x="1042" y="329.44" width="41.72" height="22.68" fill="#f19857"/>
<rect x="1083.42" y="329.44" width="41.72" height="22.68" fill="#f19452"/>
<rect x="1124.83" y="329.44" width="41.72" height="22.68" fill="#f29c5b"/>
<rect x="1176.25" y="329.44" width="41.72" height="22.68" fill="#d2d8c0"/>
<rect x="1217.67" y="329.44" width="41.72" height="22.68" fill="#e3e5c5"/>
<rect x="1259.08" y="329.44" width="41.72" height="22.68" fill="#f4f3c9"/>
<rect x="1310.2" y="329.44" width="41.72" height="22.68" fill="#f8d39d"/>
<rect x="1351.62" y="329.44" width="41.72" height="22.68" fill="#fcfacb"/>
<rect x="1393.03" y="329.44" width="41.72" height="22.68" fill="#f8d9a4"/>
<rect x="1444.5" y="329.44" width="41.72" height="22.68" fill="#b9c3ba"/>
<rect x="1485.92" y="329.44" width="41.72" height="22.68" fill="#b5c0b9"/>
<rect x="1527.33" y="329.44" width="41.72" height="22.68" fill="#cad1be"/>
<rect x="1578.75" y="329.44" width="41.72" height="22.68" fill="#8fa1af"/>
<rect x="1620.17" y="329.44" width="41.72" height="22.68" fill="#9cabb2"/>
<rect x="1661.58" y="329.44" width="41.72" height="22.68" fill="#94a4b0"/>
<rect x="1042" y="351.82" width="41.72" height="22.68" fill="#fbf4c4"/>
<rect x="1083.42" y="351.82" width="41.72" height="22.68" fill="#f8d099"/>
<rect x="1124.83" y="351.82" width="41.72" height="22.68" fill="#f8d9a4"/>
<rect x="1176.25" y="351.82" width="41.72" height="22.68" fill="#f4b072"/>
<rect x="1217.67" y="351.82" width="41.72" height="22.68" fill="#f3a768"/>
<rect x="1259.08" y="351.82" width="41.72" height="22.68" fill="#f6c188"/>
<rect x="1310.2" y="351.82" width="41.72" height="22.68" fill="#f7c78f"/>
<rect x="1351.62" y="351.82" width="41.72" height="22.68" fill="#faeab8"/>
<rect x="1393.03" y="351.82" width="41.72" height="22.68" fill="#f9dca8"/>
<rect x="1444.5" y="351.82" width="41.72" height="22.68" fill="#8b9eae"/>
<rect x="1485.92" y="351.82" width="41.72" height="22.68" fill="#44649b"/>
<rect x="1527.33" y="351.82" width="41.72" height="22.68" fill="#5975a1"/>
<rect x="1578.75" y="351.82" width="41.72" height="22.68" fill="#b1bcb8"/>
<rect x="1620.17" y="351.82" width="41.72" height="22.68" fill="#dbdfc2"/>
<rect x="1661.58" y="351.82" width="41.72" height="22.68" fill="#ced4bf"/>
<rect x="1042" y="374.2" width="41.72" height="22.68" fill="#ebecc7"/>
<rect x="1083.42" y="374.2" width="41.72" height="22.68" fill="#8397ac"/>
<rect x="1124.83" y="374.2" width="41.72" height="22.68" fill="#4c6a9e"/>
<rect x="1176.25" y="374.2" width="41.72" height="22.68" fill="#f7c78f"/>
<rect x="1217.67" y="374.2" width="41.72" height="22.68" fill="#f9e1ad"/>
<rect x="1259.08" y="374.2" width="41.72" height="22.68" fill="#fae7b4"/>
<rect x="1310.2" y="374.2" width="41.72" height="22.68" fill="#fcfacb"/>
<rect x="1351.62" y="374.2" width="41.72" height="22.68" fill="#f5b57a"/>
<rect x="1393.03" y="374.2" width="41.72" height="22.68" fill="#f1904d"/>
<rect x="1444.5" y="374.2" width="41.72" height="22.68" fill="#ebecc7"/>
<rect x="1485.92" y="374.2" width="41.72" height="22.68" fill="#7289a7"/>
<rect x="1527.33" y="374.2" width="41.72" height="22.68" fill="#8397ac"/>
<rect x="1578.75" y="374.2" width="41.72" height="22.68" fill="#f7cd96"/>
<rect x="1620.17" y="374.2" width="41.72" height="22.68" fill="#f7c78f"/>
<rect x="1661.58" y="374.2" width="41.72" height="22.68" fill="#fcfacb"/>
<rect x="1042" y="396.58" width="41.72" height="22.68" fill="#8397ac"/>
<rect x="1083.42" y="396.58" width="41.72" height="22.68" fill="#8fa1af"/>
<rect x="1124.83" y="396.58" width="41.72" height="22.68" fill="#5975a1"/>
<rect x="1176.25" y="396.58" width="41.72" height="22.68" fill="#f4ad6f"/>
<rect x="1217.67" y="396.58" width="41.72" height="22.68" fill="#f3aa6b"/>
<rect x="1259.08" y="396.58" width="41.72" height="22.68" fill="#f5b87d"/>
<rect x="1310.2" y="396.58" width="41.72" height="22.68" fill="#ebecc7"/>
<rect x="1351.62" y="396.58" width="41.72" height="22.68" fill="#ebecc7"/>
<rect x="1393.03" y="396.58" width="41.72" height="22.68" fill="#f9dfab"/>
<rect x="1444.5" y="396.58" width="41.72" height="22.68" fill="#fae5b2"/>
<rect x="1485.92" y="396.58" width="41.72" height="22.68" fill="#98a8b1"/>
<rect x="1527.33" y="396.58" width="41.72" height="22.68" fill="#d2d8c0"/>
<rect x="1578.75" y="396.58" width="41.72" height="22.68" fill="#f4ad6f"/>
<rect x="1620.17" y="396.58" width="41.72" height="22.68" fill="#fae3b0"/>
<rect x="1661.58" y="396.58" width="41.72" height="22.68" fill="#dbdfc2"/>
<rect x="1042" y="418.96" width="41.72" height="22.68" fill="#adb9b6"/>
<rect x="1083.42" y="418.96" width="41.72" height="22.68" fill="#98a8b1"/>
<rect x="1124.83" y="418.96" width="41.72" height="22.68" fill="#879aad"/>
<rect x="1176.25" y="418.96" width="41.72" height="22.68" fill="#f6c188"/>
<rect x="1217.67" y="418.96" width="41.72" height="22.68" fill="#f3aa6b"/>
<rect x="1259.08" y="418.96" width="41.72" height="22.68" fill="#f7ca92"/>
<rect x="1310.2" y="418.96" width="41.72" height="22.68" fill="#b9c3ba"/>
<rect x="1351.62" y="418.96" width="41.72" height="22.68" fill="#b9c3ba"/>
<rect x="1393.03" y="418.96" width="41.72" height="22.68" fill="#ebecc7"/>
<rect x="1444.5" y="418.96" width="41.72" height="22.68" fill="#fcf7c7"/>
<rect x="1485.92" y="418.96" width="41.72" height="22.68" fill="#e3e5c5"/>
<rect x="1527.33" y="418.96" width="41.72" height="22.68" fill="#f4f3c9"/>
<rect x="1578.75" y="418.96" width="41.72" height="22.68" fill="#ee772f"/>
<rect x="1620.17" y="418.96" width="41.72" height="22.68" fill="#f6c48b"/>
<rect x="1661.58" y="418.96" width="41.72" height="22.68" fill="#a8b6b5"/>
<rect x="1042" y="441.34" width="41.72" height="22.68" fill="#dfe2c3"/>
<rect x="1083.42" y="441.34" width="41.72" height="22.68" fill="#fcfacb"/>
<rect x="1124.83" y="441.34" width="41.72" height="22.68" fill="#dbdfc2"/>
<rect x="1176.25" y="441.34" width="41.72" height="22.68" fill="#f4f3c9"/>
<rect x="1217.67" y="441.34" width="41.72" height="22.68" fill="#fbf1c0"/>
<rect x="1259.08" y="441.34" width="41.72" height="22.68" fill="#fae7b4"/>
<rect x="1310.2" y="441.34" width="41.72" height="22.68" fill="#ed6b21"/>
<rect x="1351.62" y="441.34" width="41.72" height="22.68" fill="#f4b072"/>
<rect x="1393.03" y="441.34" width="41.72" height="22.68" fill="#f3aa6b"/>
<rect x="1444.5" y="441.34" width="41.72" height="22.68" fill="#a0afb3"/>
<rect x="1485.92" y="441.34" width="41.72" height="22.68" fill="#879aad"/>
<rect x="1527.33" y="441.34" width="41.72" height="22.68" fill="#98a8b1"/>
<rect x="1578.75" y="441.34" width="41.72" height="22.68" fill="#dbdfc2"/>
<rect x="1620.17" y="441.34" width="41.72" height="22.68" fill="#a0afb3"/>
<rect x="1661.58" y="441.34" width="41.72" height="22.68" fill="#dbdfc2"/>
<rect x="1042" y="463.72" width="41.72" height="22.68" fill="#f3a464"/>
<rect x="1083.42" y="463.72" width="41.72" height="22.68" fill="#ed6e25"/>
<rect x="1124.83" y="463.72" width="41.72" height="22.68" fill="#f3a464"/>
<rect x="1176.25" y="463.72" width="41.72" height="22.68" fill="#d2d8c0"/>
<rect x="1217.67" y="463.72" width="41.72" height="22.68" fill="#d2d8c0"/>
<rect x="1259.08" y="463.72" width="41.72" height="22.68" fill="#cad1be"/>
<rect x="1310.2" y="463.72" width="41.72" height="22.68" fill="#fbf4c4"/>
<rect x="1351.62" y="463.72" width="41.72" height="22.68" fill="#fcfacb"/>
<rect x="1393.03" y="463.72" width="41.72" height="22.68" fill="#f4f3c9"/>
<rect x="1444.5" y="463.72" width="41.72" height="22.68" fill="#b9c3ba"/>
<rect x="1485.92" y="463.72" width="41.72" height="22.68" fill="#b5c0b9"/>
<rect x="1527.33" y="463.72" width="41.72" height="22.68" fill="#b5c0b9"/>
<rect x="1578.75" y="463.72" width="41.72" height="22.68" fill="#ced4bf"/>
<rect x="1620.17" y="463.72" width="41.72" height="22.68" fill="#cad1be"/>
<rect x="1661.58" y="463.72" width="41.72" height="22.68" fill="#c1cabc"/>
<rect x="1042" y="486.1" width="41.72" height="22.68" fill="#b1bcb8"/>
<rect x="1083.42" y="486.1" width="41.72" height="22.68" fill="#b1bcb8"/>
<rect x="1124.83" y="486.1" width="41.72" height="22.68" fill="#b1bcb8"/>
<rect x="1176.25" y="486.1" width="41.72" height="22.68" fill="#f3a464"/>
<rect x="1217.67" y="486.1" width="41.72" height="22.68" fill="#f6c188"/>
<rect x="1259.08" y="486.1" width="41.72" height="22.68" fill="#f3aa6b"/>
<rect x="1310.2" y="486.1" width="41.72" height="22.68" fill="#f6c188"/>
<rect x="1351.62" y="486.1" width="41.72" height="22.68" fill="#f4b072"/>
<rect x="1393.03" y="486.1" width="41.72" height="22.68" fill="#f6c48b"/>
<rect x="1444.5" y="486.1" width="41.72" height="22.68" fill="#b9c3ba"/>
<rect x="1485.92" y="486.1" width="41.72" height="22.68" fill="#b1bcb8"/>
<rect x="1527.33" y="486.1" width="41.72" height="22.68" fill="#b1bcb8"/>
<rect x="1578.75" y="486.1" width="41.72" height="22.68" fill="#b9c3ba"/>
<rect x="1620.17" y="486.1" width="41.72" height="22.68" fill="#b9c3ba"/>
<rect x="1661.58" y="486.1" width="41.72" height="22.68" fill="#b5c0b9"/>
<rect x="1042" y="508.48" width="41.72" height="22.68" fill="#f19857"/>
<rect x="1083.42" y="508.48" width="41.72" height="22.68" fill="#ef7d36"/>
<rect x="1124.83" y="508.48" width="41.72" height="22.68" fill="#f08844"/>
<rect x="1176.25" y="508.48" width="41.72" height="22.68" fill="#c1cabc"/>
<rect x="1217.67" y="508.48" width="41.72" height="22.68" fill="#c1cabc"/>
<rect x="1259.08" y="508.48" width="41.72" height="22.68" fill="#c1cabc"/>
<rect x="1310.2" y="508.48" width="41.72" height="22.68" fill="#dfe2c3"/>
<rect x="1351.62" y="508.48" width="41.72" height="22.68" fill="#dfe2c3"/>
<rect x="1393.03" y="508.48" width="41.72" height="22.68" fill="#ebecc7"/>
<rect x="1444.5" y="508.48" width="41.72" height="22.68" fill="#cad1be"/>
<rect x="1485.92" y="508.48" width="41.72" height="22.68" fill="#ced4bf"/>
<rect x="1527.33" y="508.48" width="41.72" height="22.68" fill="#ced4bf"/>
<rect x="1578.75" y="508.48" width="41.72" height="22.68" fill="#cad1be"/>
<rect x="1620.17" y="508.48" width="41.72" height="22.68" fill="#ced4bf"/>
<rect x="1661.58" y="508.48" width="41.72" height="22.68" fill="#d2d8c0"/>
<rect x="1042" y="530.86" width="41.72" height="22.68" fill="#ee7a33"/>
<rect x="1083.42" y="530.86" width="41.72" height="22.68" fill="#f1904d"/>
<rect x="1124.83" y="530.86" width="41.72" height="22.68" fill="#f08844"/>
<rect x="1176.25" y="530.86" width="41.72" height="22.68" fill="#ced4bf"/>
<rect x="1217.67" y="530.86" width="41.72" height="22.68" fill="#cad1be"/>
<rect x="1259.08" y="530.86" width="41.72" height="22.68" fill="#c6cebd"/>
<rect x="1310.2" y="530.86" width="41.72" height="22.68" fill="#d2d8c0"/>
<rect x="1351.62" y="530.86" width="41.72" height="22.68" fill="#d2d8c0"/>
<rect x="1393.03" y="530.86" width="41.72" height="22.68" fill="#d2d8c0"/>
<rect x="1444.5" y="530.86" width="41.72" height="22.68" fill="#d2d8c0"/>
<rect x="1485.92" y="530.86" width="41.72" height="22.68" fill="#ced4bf"/>
<rect x="1527.33" y="530.86" width="41.72" height="22.68" fill="#d2d8c0"/>
<rect x="1578.75" y="530.86" width="41.72" height="22.68" fill="#dbdfc2"/>
<rect x="1620.17" y="530.86" width="41.72" height="22.68" fill="#ced4bf"/>
<rect x="1661.58" y="530.86" width="41.72" height="22.68" fill="#ced4bf"/>
<rect x="1042" y="553.24" width="41.72" height="22.68" fill="#98a8b1"/>
<rect x="1083.42" y="553.24" width="41.72" height="22.68" fill="#98a8b1"/>
<rect x="1124.83" y="553.24" width="41.72" height="22.68" fill="#98a8b1"/>
<rect x="1176.25" y="553.24" width="41.72" height="22.68" fill="#f7cd96"/>
<rect x="1217.67" y="553.24" width="41.72" height="22.68" fill="#f8d39d"/>
<rect x="1259.08" y="553.24" width="41.72" height="22.68" fill="#f3aa6b"/>
<rect x="1310.2" y="553.24" width="41.72" height="22.68" fill="#f08844"/>
<rect x="1351.62" y="553.24" width="41.72" height="22.68" fill="#f9e1ad"/>
<rect x="1393.03" y="553.24" width="41.72" height="22.68" fill="#f7cd96"/>
<rect x="1444.5" y="553.24" width="41.72" height="22.68" fill="#98a8b1"/>
<rect x="1485.92" y="553.24" width="41.72" height="22.68" fill="#94a4b0"/>
<rect x="1527.33" y="553.24" width="41.72" height="22.68" fill="#a0afb3"/>
<rect x="1578.75" y="553.24" width="41.72" height="22.68" fill="#fae3b0"/>
<rect x="1620.17" y="553.24" width="41.72" height="22.68" fill="#fbf4c4"/>
<rect x="1661.58" y="553.24" width="41.72" height="22.68" fill="#fbf4c4"/>
<rect x="1042" y="575.62" width="41.72" height="22.68" fill="#8397ac"/>
<rect x="1083.42" y="575.62" width="41.72" height="22.68" fill="#8397ac"/>
<rect x="1124.83" y="575.62" width="41.72" height="22.68" fill="#8397ac"/>
<rect x="1176.25" y="575.62" width="41.72" height="22.68" fill="#fbecbb"/>
<rect x="1217.67" y="575.62" width="41.72" height="22.68" fill="#fbecbb"/>
<rect x="1259.08" y="575.62" width="41.72" height="22.68" fill="#f6c48b"/>
<rect x="1310.2" y="575.62" width="41.72" height="22.68" fill="#f8d9a4"/>
<rect x="1351.62" y="575.62" width="41.72" height="22.68" fill="#f6be84"/>
<rect x="1393.03" y="575.62" width="41.72" height="22.68" fill="#fae3b0"/>
<rect x="1444.5" y="575.62" width="41.72" height="22.68" fill="#a0afb3"/>
<rect x="1485.92" y="575.62" width="41.72" height="22.68" fill="#a0afb3"/>
<rect x="1527.33" y="575.62" width="41.72" height="22.68" fill="#a0afb3"/>
<rect x="1578.75" y="575.62" width="41.72" height="22.68" fill="#f19452"/>
<rect x="1620.17" y="575.62" width="41.72" height="22.68" fill="#f8d099"/>
<rect x="1661.58" y="575.62" width="41.72" height="22.68" fill="#f5b57a"/>
<rect x="1042" y="598" width="41.72" height="22.68" fill="#a4b2b4"/>
<rect x="1083.42" y="598" width="41.72" height="22.68" fill="#adb9b6"/>
<rect x="1124.83" y="598" width="41.72" height="22.68" fill="#a0afb3"/>
<rect x="1176.25" y="598" width="41.72" height="22.68" fill="#9cabb2"/>
<rect x="1217.67" y="598" width="41.72" height="22.68" fill="#9cabb2"/>
<rect x="1259.08" y="598" width="41.72" height="22.68" fill="#9cabb2"/>
<rect x="1310.2" y="598" width="41.72" height="22.68" fill="#dbdfc2"/>
<rect x="1351.62" y="598" width="41.72" height="22.68" fill="#dbdfc2"/>
<rect x="1393.03" y="598" width="41.72" height="22.68" fill="#dbdfc2"/>
<rect x="1444.5" y="598" width="41.72" height="22.68" fill="#f5b57a"/>
<rect x="1485.92" y="598" width="41.72" height="22.68" fill="#f4b276"/>
<rect x="1527.33" y="598" width="41.72" height="22.68" fill="#f6c48b"/>
<rect x="1578.75" y="598" width="41.72" height="22.68" fill="#f5b57a"/>
<rect x="1620.17" y="598" width="41.72" height="22.68" fill="#f3aa6b"/>
<rect x="1661.58" y="598" width="41.72" height="22.68" fill="#f4b072"/>
<rect x="1042" y="620.38" width="41.72" height="22.68" fill="#6a82a5"/>
<rect x="1083.42" y="620.38" width="41.72" height="22.68" fill="#6e86a6"/>
<rect x="1124.83" y="620.38" width="41.72" height="22.68" fill="#617ba3"/>
<rect x="1176.25" y="620.38" width="41.72" height="22.68" fill="#f29c5b"/>
<rect x="1217.67" y="620.38" width="41.72" height="22.68" fill="#f4b276"/>
<rect x="1259.08" y="620.38" width="41.72" height="22.68" fill="#f3a464"/>
<rect x="1310.2" y="620.38" width="41.72" height="22.68" fill="#faeab8"/>
<rect x="1351.62" y="620.38" width="41.72" height="22.68" fill="#faeab8"/>
<rect x="1393.03" y="620.38" width="41.72" height="22.68" fill="#faeab8"/>
<rect x="1444.5" y="620.38" width="41.72" height="22.68" fill="#fcfacb"/>
<rect x="1485.92" y="620.38" width="41.72" height="22.68" fill="#eff0c8"/>
<rect x="1527.33" y="620.38" width="41.72" height="22.68" fill="#e7e9c6"/>
<rect x="1578.75" y="620.38" width="41.72" height="22.68" fill="#d2d8c0"/>
<rect x="1620.17" y="620.38" width="41.72" height="22.68" fill="#fae7b4"/>
<rect x="1661.58" y="620.38" width="41.72" height="22.68" fill="#faeab8"/>
<rect x="1042" y="642.76" width="41.72" height="22.68" fill="#f4b072"/>
<rect x="1083.42" y="642.76" width="41.72" height="22.68" fill="#f19857"/>
<rect x="1124.83" y="642.76" width="41.72" height="22.68" fill="#f4ad6f"/>
<rect x="1176.25" y="642.76" width="41.72" height="22.68" fill="#faeab8"/>
<rect x="1217.67" y="642.76" width="41.72" height="22.68" fill="#f7cd96"/>
<rect x="1259.08" y="642.76" width="41.72" height="22.68" fill="#ebecc7"/>
<rect x="1310.2" y="642.76" width="41.72" height="22.68" fill="#cad1be"/>
<rect x="1351.62" y="642.76" width="41.72" height="22.68" fill="#adb9b6"/>
<rect x="1393.03" y="642.76" width="41.72" height="22.68" fill="#d2d8c0"/>
<rect x="1444.5" y="642.76" width="41.72" height="22.68" fill="#98a8b1"/>
<rect x="1485.92" y="642.76" width="41.72" height="22.68" fill="#6a82a5"/>
<rect x="1527.33" y="642.76" width="41.72" height="22.68" fill="#7289a7"/>
<rect x="1578.75" y="642.76" width="41.72" height="22.68" fill="#f8d9a4"/>
<rect x="1620.17" y="642.76" width="41.72" height="22.68" fill="#fae8b6"/>
<rect x="1661.58" y="642.76" width="41.72" height="22.68" fill="#faeab8"/>
<rect x="1042" y="665.14" width="41.72" height="22.68" fill="#8fa1af"/>
<rect x="1083.42" y="665.14" width="41.72" height="22.68" fill="#8fa1af"/>
<rect x="1124.83" y="665.14" width="41.72" height="22.68" fill="#8fa1af"/>
<rect x="1176.25" y="665.14" width="41.72" height="22.68" fill="#f4b072"/>
<rect x="1217.67" y="665.14" width="41.72" height="22.68" fill="#f08c49"/>
<rect x="1259.08" y="665.14" width="41.72" height="22.68" fill="#ef813b"/>
<rect x="1310.2" y="665.14" width="41.72" height="22.68" fill="#c1cabc"/>
<rect x="1351.62" y="665.14" width="41.72" height="22.68" fill="#c1cabc"/>
<rect x="1393.03" y="665.14" width="41.72" height="22.68" fill="#c1cabc"/>
<rect x="1444.5" y="665.14" width="41.72" height="22.68" fill="#eff0c8"/>
<rect x="1485.92" y="665.14" width="41.72" height="22.68" fill="#eff0c8"/>
<rect x="1527.33" y="665.14" width="41.72" height="22.68" fill="#eff0c8"/>
<rect x="1578.75" y="665.14" width="41.72" height="22.68" fill="#f9dfab"/>
<rect x="1620.17" y="665.14" width="41.72" height="22.68" fill="#fcf7c7"/>
<rect x="1661.58" y="665.14" width="41.72" height="22.68" fill="#faeab8"/>
<rect x="1042" y="687.52" width="41.72" height="22.68" fill="#c1cabc"/>
<rect x="1083.42" y="687.52" width="41.72" height="22.68" fill="#c1cabc"/>
<rect x="1124.83" y="687.52" width="41.72" height="22.68" fill="#c1cabc"/>
<rect x="1176.25" y="687.52" width="41.72" height="22.68" fill="#e3e5c5"/>
<rect x="1217.67" y="687.52" width="41.72" height="22.68" fill="#e7e9c6"/>
<rect x="1259.08" y="687.52" width="41.72" height="22.68" fill="#e3e5c5"/>
<rect x="1310.2" y="687.52" width="41.72" height="22.68" fill="#d2d8c0"/>
<rect x="1351.62" y="687.52" width="41.72" height="22.68" fill="#d2d8c0"/>
<rect x="1393.03" y="687.52" width="41.72" height="22.68" fill="#ced4bf"/>
<rect x="1444.5" y="687.52" width="41.72" height="22.68" fill="#cad1be"/>
<rect x="1485.92" y="687.52" width="41.72" height="22.68" fill="#c6cebd"/>
<rect x="1527.33" y="687.52" width="41.72" height="22.68" fill="#c6cebd"/>
<rect x="1578.75" y="687.52" width="41.72" height="22.68" fill="#ef8540"/>
<rect x="1620.17" y="687.52" width="41.72" height="22.68" fill="#f08c49"/>
<rect x="1661.58" y="687.52" width="41.72" height="22.68" fill="#ef7d36"/>
<rect x="1042" y="709.9" width="41.72" height="22.68" fill="#7a90aa"/>
<rect x="1083.42" y="709.9" width="41.72" height="22.68" fill="#7a90aa"/>
<rect x="1124.83" y="709.9" width="41.72" height="22.68" fill="#7a90aa"/>
<rect x="1176.25" y="709.9" width="41.72" height="22.68" fill="#c1cabc"/>
<rect x="1217.67" y="709.9" width="41.72" height="22.68" fill="#cad1be"/>
<rect x="1259.08" y="709.9" width="41.72" height="22.68" fill="#b9c3ba"/>
<rect x="1310.2" y="709.9" width="41.72" height="22.68" fill="#f8d39d"/>
<rect x="1351.62" y="709.9" width="41.72" height="22.68" fill="#f7ca92"/>
<rect x="1393.03" y="709.9" width="41.72" height="22.68" fill="#f5b87d"/>
<rect x="1444.5" y="709.9" width="41.72" height="22.68" fill="#f19857"/>
<rect x="1485.92" y="709.9" width="41.72" height="22.68" fill="#f5b57a"/>
<rect x="1527.33" y="709.9" width="41.72" height="22.68" fill="#f3aa6b"/>
<rect x="1578.75" y="709.9" width="41.72" height="22.68" fill="#e7e9c6"/>
<rect x="1620.17" y="709.9" width="41.72" height="22.68" fill="#fcfacb"/>
<rect x="1661.58" y="709.9" width="41.72" height="22.68" fill="#e7e9c6"/>
<rect x="1042" y="732.28" width="41.72" height="22.68" fill="#8fa1af"/>
<rect x="1083.42" y="732.28" width="41.72" height="22.68" fill="#8fa1af"/>
<rect x="1124.83" y="732.28" width="41.72" height="22.68" fill="#a0afb3"/>
<rect x="1176.25" y="732.28" width="41.72" height="22.68" fill="#f4b276"/>
<rect x="1217.67" y="732.28" width="41.72" height="22.68" fill="#f3a464"/>
<rect x="1259.08" y="732.28" width="41.72" height="22.68" fill="#f5bb81"/>
<rect x="1310.2" y="732.28" width="41.72" height="22.68" fill="#f7ca92"/>
<rect x="1351.62" y="732.28" width="41.72" height="22.68" fill="#f7c78f"/>
<rect x="1393.03" y="732.28" width="41.72" height="22.68" fill="#f3aa6b"/>
<rect x="1444.5" y="732.28" width="41.72" height="22.68" fill="#8fa1af"/>
<rect x="1485.92" y="732.28" width="41.72" height="22.68" fill="#adb9b6"/>
<rect x="1527.33" y="732.28" width="41.72" height="22.68" fill="#a0afb3"/>
<rect x="1578.75" y="732.28" width="41.72" height="22.68" fill="#fbf1c0"/>
<rect x="1620.17" y="732.28" width="41.72" height="22.68" fill="#dfe2c3"/>
<rect x="1661.58" y="732.28" width="41.72" height="22.68" fill="#eff0c8"/>
<rect x="1042" y="754.66" width="41.72" height="22.68" fill="#f19857"/>
<rect x="1083.42" y="754.66" width="41.72" height="22.68" fill="#f9e1ad"/>
<rect x="1124.83" y="754.66" width="41.72" height="22.68" fill="#fcfacb"/>
<rect x="1176.25" y="754.66" width="41.72" height="22.68" fill="#98a8b1"/>
<rect x="1217.67" y="754.66" width="41.72" height="22.68" fill="#dfe2c3"/>
<rect x="1259.08" y="754.66" width="41.72" height="22.68" fill="#cad1be"/>
<rect x="1310.2" y="754.66" width="41.72" height="22.68" fill="#fcfacb"/>
<rect x="1351.62" y="754.66" width="41.72" height="22.68" fill="#eff0c8"/>
<rect x="1393.03" y="754.66" width="41.72" height="22.68" fill="#f8d39d"/>
<rect x="1444.5" y="754.66" width="41.72" height="22.68" fill="#a8b6b5"/>
<rect x="1485.92" y="754.66" width="41.72" height="22.68" fill="#8397ac"/>
<rect x="1527.33" y="754.66" width="41.72" height="22.68" fill="#48679d"/>
<rect x="1578.75" y="754.66" width="41.72" height="22.68" fill="#f29c5b"/>
<rect x="1620.17" y="754.66" width="41.72" height="22.68" fill="#f9dfab"/>
<rect x="1661.58" y="754.66" width="41.72" height="22.68" fill="#f6c188"/>
</g>
<path d="M1042 172.78H1166.25M1042 195.16H1166.25M1042 217.54H1166.25M1042 239.92H1166.25M1042 262.3H1166.25M1042 284.68H1166.25M1042 307.06H1166.25M1042 329.44H1166.25M1042 351.82H1166.25M1042 374.2H1166.25M1042 396.58H1166.25M1042 418.96H1166.25M1042 441.34H1166.25M1042 463.72H1166.25M1042 486.1H1166.25M1042 508.48H1166.25M1042 530.86H1166.25M1042 553.24H1166.25M1042 575.62H1166.25M1042 598H1166.25M1042 620.38H1166.25M1042 642.76H1166.25M1042 665.14H1166.25M1042 687.52H1166.25M1042 709.9H1166.25M1042 732.28H1166.25M1042 754.66H1166.25M1083.42 150.4V777.04M1124.83 150.4V777.04" stroke="#9a9a9a" stroke-width="1.75" fill="none"/>
<rect x="1042" y="150.4" width="124.25" height="626.64" fill="none" stroke="#9a9a9a" stroke-width="2.1"/>
<path d="M1176.25 172.78H1300.5M1176.25 195.16H1300.5M1176.25 217.54H1300.5M1176.25 239.92H1300.5M1176.25 262.3H1300.5M1176.25 284.68H1300.5M1176.25 307.06H1300.5M1176.25 329.44H1300.5M1176.25 351.82H1300.5M1176.25 374.2H1300.5M1176.25 396.58H1300.5M1176.25 418.96H1300.5M1176.25 441.34H1300.5M1176.25 463.72H1300.5M1176.25 486.1H1300.5M1176.25 508.48H1300.5M1176.25 530.86H1300.5M1176.25 553.24H1300.5M1176.25 575.62H1300.5M1176.25 598H1300.5M1176.25 620.38H1300.5M1176.25 642.76H1300.5M1176.25 665.14H1300.5M1176.25 687.52H1300.5M1176.25 709.9H1300.5M1176.25 732.28H1300.5M1176.25 754.66H1300.5M1217.67 150.4V777.04M1259.08 150.4V777.04" stroke="#9a9a9a" stroke-width="1.75" fill="none"/>
<rect x="1176.25" y="150.4" width="124.25" height="626.64" fill="none" stroke="#9a9a9a" stroke-width="2.1"/>
<path d="M1310.2 172.78H1434.45M1310.2 195.16H1434.45M1310.2 217.54H1434.45M1310.2 239.92H1434.45M1310.2 262.3H1434.45M1310.2 284.68H1434.45M1310.2 307.06H1434.45M1310.2 329.44H1434.45M1310.2 351.82H1434.45M1310.2 374.2H1434.45M1310.2 396.58H1434.45M1310.2 418.96H1434.45M1310.2 441.34H1434.45M1310.2 463.72H1434.45M1310.2 486.1H1434.45M1310.2 508.48H1434.45M1310.2 530.86H1434.45M1310.2 553.24H1434.45M1310.2 575.62H1434.45M1310.2 598H1434.45M1310.2 620.38H1434.45M1310.2 642.76H1434.45M1310.2 665.14H1434.45M1310.2 687.52H1434.45M1310.2 709.9H1434.45M1310.2 732.28H1434.45M1310.2 754.66H1434.45M1351.62 150.4V777.04M1393.03 150.4V777.04" stroke="#9a9a9a" stroke-width="1.75" fill="none"/>
<rect x="1310.2" y="150.4" width="124.25" height="626.64" fill="none" stroke="#9a9a9a" stroke-width="2.1"/>
<path d="M1444.5 172.78H1568.75M1444.5 195.16H1568.75M1444.5 217.54H1568.75M1444.5 239.92H1568.75M1444.5 262.3H1568.75M1444.5 284.68H1568.75M1444.5 307.06H1568.75M1444.5 329.44H1568.75M1444.5 351.82H1568.75M1444.5 374.2H1568.75M1444.5 396.58H1568.75M1444.5 418.96H1568.75M1444.5 441.34H1568.75M1444.5 463.72H1568.75M1444.5 486.1H1568.75M1444.5 508.48H1568.75M1444.5 530.86H1568.75M1444.5 553.24H1568.75M1444.5 575.62H1568.75M1444.5 598H1568.75M1444.5 620.38H1568.75M1444.5 642.76H1568.75M1444.5 665.14H1568.75M1444.5 687.52H1568.75M1444.5 709.9H1568.75M1444.5 732.28H1568.75M1444.5 754.66H1568.75M1485.92 150.4V777.04M1527.33 150.4V777.04" stroke="#9a9a9a" stroke-width="1.75" fill="none"/>
<rect x="1444.5" y="150.4" width="124.25" height="626.64" fill="none" stroke="#9a9a9a" stroke-width="2.1"/>
<path d="M1578.75 172.78H1703M1578.75 195.16H1703M1578.75 217.54H1703M1578.75 239.92H1703M1578.75 262.3H1703M1578.75 284.68H1703M1578.75 307.06H1703M1578.75 329.44H1703M1578.75 351.82H1703M1578.75 374.2H1703M1578.75 396.58H1703M1578.75 418.96H1703M1578.75 441.34H1703M1578.75 463.72H1703M1578.75 486.1H1703M1578.75 508.48H1703M1578.75 530.86H1703M1578.75 553.24H1703M1578.75 575.62H1703M1578.75 598H1703M1578.75 620.38H1703M1578.75 642.76H1703M1578.75 665.14H1703M1578.75 687.52H1703M1578.75 709.9H1703M1578.75 732.28H1703M1578.75 754.66H1703M1620.17 150.4V777.04M1661.58 150.4V777.04" stroke="#9a9a9a" stroke-width="1.75" fill="none"/>
<rect x="1578.75" y="150.4" width="124.25" height="626.64" fill="none" stroke="#9a9a9a" stroke-width="2.1"/>
<text x="1710.9" y="169.49" font-size="24.55" text-anchor="start">Glu</text>
<text x="1710.9" y="191.87" font-size="24.55" text-anchor="start">Gly</text>
<text x="1710.9" y="214.25" font-size="24.55" text-anchor="start">Arg</text>
<text x="1710.9" y="236.63" font-size="24.55" text-anchor="start">Ala</text>
<text x="1710.9" y="259.01" font-size="24.55" text-anchor="start">Try</text>
<text x="1710.9" y="281.39" font-size="24.55" text-anchor="start">Leu</text>
<text x="1710.9" y="303.77" font-size="24.55" text-anchor="start">Pro</text>
<text x="1710.9" y="326.15" font-size="24.55" text-anchor="start">Tartaric</text>
<text x="1710.9" y="348.53" font-size="24.55" text-anchor="start">Citric acid</text>
<text x="1710.9" y="370.91" font-size="24.55" text-anchor="start">Lactic acid</text>
<text x="1710.9" y="393.29" font-size="24.55" text-anchor="start">Phenylethanol</text>
<text x="1710.9" y="415.67" font-size="24.55" text-anchor="start">isoamylol</text>
<text x="1710.9" y="438.05" font-size="24.55" text-anchor="start">isobutanol</text>
<text x="1710.9" y="460.43" font-size="24.55" text-anchor="start">Ethyl lactate</text>
<text x="1710.9" y="482.81" font-size="24.55" text-anchor="start">Ethyl acetate</text>
<text x="1710.9" y="505.19" font-size="24.55" text-anchor="start">Ethyl butyrate</text>
<text x="1710.9" y="527.57" font-size="24.55" text-anchor="start">Isoamyl acetate</text>
<text x="1710.9" y="549.95" font-size="24.55" text-anchor="start">Phenethyl acetate</text>
<text x="1710.9" y="572.33" font-size="24.55" text-anchor="start">Ethyl octanoate</text>
<text x="1710.9" y="594.71" font-size="24.55" text-anchor="start">Ethyl decanoate</text>
<text x="1710.9" y="617.09" font-size="24.55" text-anchor="start">4-Ethyl phenol</text>
<text x="1710.9" y="639.47" font-size="24.55" text-anchor="start">4-Vinylguaiacol</text>
<text x="1710.9" y="661.85" font-size="24.55" text-anchor="start">3-Methylthiopropanol</text>
<text x="1710.9" y="684.23" font-size="24.55" text-anchor="start">Diethyl succinate</text>
<text x="1710.9" y="706.61" font-size="24.55" text-anchor="start">4-Ethyl guaiacol</text>
<text x="1710.9" y="728.99" font-size="24.55" text-anchor="start">Ethyl palmitate</text>
<text x="1710.9" y="751.37" font-size="24.55" text-anchor="start">2,3-Butanediol</text>
<text x="1710.9" y="773.75" font-size="24.55" text-anchor="start">Isobutyl acetate</text>
<text x="1055.11" y="784.5" font-size="25.6" textLength="225.5" lengthAdjust="spacingAndGlyphs" transform="rotate(90 1055.11 784.5)"><tspan font-style="italic">L. plantarum</tspan> JN01<tspan font-weight="normal" stroke="#000" stroke-width="0.45">_3</tspan></text>
<text x="1096.53" y="784.5" font-size="25.6" textLength="225" lengthAdjust="spacingAndGlyphs" transform="rotate(90 1096.53 784.5)"><tspan font-style="italic">L. plantarum</tspan> JN01<tspan font-weight="normal" stroke="#000" stroke-width="0.45">_1</tspan></text>
<text x="1137.94" y="784.5" font-size="25.6" textLength="225.5" lengthAdjust="spacingAndGlyphs" transform="rotate(90 1137.94 784.5)"><tspan font-style="italic">L. plantarum</tspan> JN01<tspan font-weight="normal" stroke="#000" stroke-width="0.45">_2</tspan></text>
<text x="1189.36" y="784.5" font-size="25.6" textLength="163" lengthAdjust="spacingAndGlyphs" transform="rotate(90 1189.36 784.5)"><tspan font-style="italic">S. hirsuta</tspan> J2<tspan font-weight="bold">_3</tspan></text>
<text x="1230.78" y="784.5" font-size="25.6" textLength="162.3" lengthAdjust="spacingAndGlyphs" transform="rotate(90 1230.78 784.5)"><tspan font-style="italic">S. hirsuta</tspan> J2<tspan font-weight="bold">_1</tspan></text>
<text x="1272.19" y="784.5" font-size="25.6" textLength="163" lengthAdjust="spacingAndGlyphs" transform="rotate(90 1272.19 784.5)"><tspan font-style="italic">S. hirsuta</tspan> J2<tspan font-weight="bold">_2</tspan></text>
<text x="1323.31" y="784.5" font-size="25.6" textLength="179" lengthAdjust="spacingAndGlyphs" transform="rotate(90 1323.31 784.5)">Control group<tspan font-weight="bold">_2</tspan></text>
<text x="1364.73" y="784.5" font-size="25.6" textLength="178" lengthAdjust="spacingAndGlyphs" transform="rotate(90 1364.73 784.5)">Control group<tspan font-weight="bold">_1</tspan></text>
<text x="1406.14" y="784.5" font-size="25.6" textLength="179" lengthAdjust="spacingAndGlyphs" transform="rotate(90 1406.14 784.5)">Control group<tspan font-weight="bold">_3</tspan></text>
<text x="1457.61" y="784.5" font-size="25.6" textLength="173" lengthAdjust="spacingAndGlyphs" transform="rotate(90 1457.61 784.5)"><tspan font-style="italic">A. oryzae</tspan> <tspan font-weight="normal" stroke="#000" stroke-width="0.45">MQ</tspan><tspan font-weight="normal" stroke="#000" stroke-width="0.45">_3</tspan></text>
<text x="1499.03" y="784.5" font-size="25.6" textLength="172" lengthAdjust="spacingAndGlyphs" transform="rotate(90 1499.03 784.5)"><tspan font-style="italic">A. oryzae</tspan> <tspan font-weight="normal" stroke="#000" stroke-width="0.45">MQ</tspan><tspan font-weight="normal" stroke="#000" stroke-width="0.45">_1</tspan></text>
<text x="1540.44" y="784.5" font-size="25.6" textLength="173" lengthAdjust="spacingAndGlyphs" transform="rotate(90 1540.44 784.5)"><tspan font-style="italic">A. oryzae</tspan> <tspan font-weight="normal" stroke="#000" stroke-width="0.45">MQ</tspan><tspan font-weight="normal" stroke="#000" stroke-width="0.45">_2</tspan></text>
<text x="1591.86" y="784.5" font-size="25.6" textLength="196" lengthAdjust="spacingAndGlyphs" transform="rotate(90 1591.86 784.5)"><tspan font-style="italic">A. flavus</tspan> <tspan font-weight="normal" stroke="#000" stroke-width="0.45">SU−16</tspan><tspan font-weight="normal" stroke="#000" stroke-width="0.45">_2</tspan></text>
<text x="1633.28" y="784.5" font-size="25.6" textLength="195" lengthAdjust="spacingAndGlyphs" transform="rotate(90 1633.28 784.5)"><tspan font-style="italic">A. flavus</tspan> <tspan font-weight="normal" stroke="#000" stroke-width="0.45">SU−16</tspan><tspan font-weight="normal" stroke="#000" stroke-width="0.45">_1</tspan></text>
<text x="1674.69" y="784.5" font-size="25.6" textLength="196" lengthAdjust="spacingAndGlyphs" transform="rotate(90 1674.69 784.5)"><tspan font-style="italic">A. flavus</tspan> <tspan font-weight="normal" stroke="#000" stroke-width="0.45">SU−16</tspan><tspan font-weight="normal" stroke="#000" stroke-width="0.45">_3</tspan></text>
<polyline points="1104.12,150.4 1104.12,120.75 1145.54,120.75 1145.54,150.4" fill="none" stroke="#000" stroke-width="1.7"/>
<polyline points="1062.71,150.4 1062.71,115 1124.83,115 1124.83,120.75" fill="none" stroke="#000" stroke-width="1.7"/>
<polyline points="1238.38,150.4 1238.38,124.25 1279.79,124.25 1279.79,150.4" fill="none" stroke="#000" stroke-width="1.7"/>
<polyline points="1196.96,150.4 1196.96,123.25 1259.08,123.25 1259.08,124.25" fill="none" stroke="#000" stroke-width="1.7"/>
<polyline points="1372.33,150.4 1372.33,122.5 1413.74,122.5 1413.74,150.4" fill="none" stroke="#000" stroke-width="1.7"/>
<polyline points="1330.91,150.4 1330.91,110.75 1393.03,110.75 1393.03,122.5" fill="none" stroke="#000" stroke-width="1.7"/>
<polyline points="1506.62,150.4 1506.62,133.75 1548.04,133.75 1548.04,150.4" fill="none" stroke="#000" stroke-width="1.7"/>
<polyline points="1465.21,150.4 1465.21,120.75 1527.33,120.75 1527.33,133.75" fill="none" stroke="#000" stroke-width="1.7"/>
<polyline points="1640.88,150.4 1640.88,113.75 1682.29,113.75 1682.29,150.4" fill="none" stroke="#000" stroke-width="1.7"/>
<polyline points="1599.46,150.4 1599.46,97 1661.58,97 1661.58,113.75" fill="none" stroke="#000" stroke-width="1.7"/>
<polyline points="1228.02,123.25 1228.02,80 1361.97,80 1361.97,110.75" fill="none" stroke="#000" stroke-width="1.7"/>
<polyline points="1496.27,120.75 1496.27,51.5 1630.52,51.5 1630.52,97" fill="none" stroke="#000" stroke-width="1.7"/>
<polyline points="1290.2,80 1290.2,35 1558.3,35 1558.3,51.5" fill="none" stroke="#000" stroke-width="1.7"/>
<polyline points="1093.77,115 1093.77,3.8 1424.3,3.8 1424.3,35" fill="none" stroke="#000" stroke-width="1.7"/>
<text x="1057.5" y="30" font-size="37" text-anchor="start">E</text>
<defs><linearGradient id="cb" x1="0" y1="0" x2="0" y2="1"><stop offset="0" stop-color="#ea6318"/><stop offset="0.505" stop-color="#fcfacb"/><stop offset="0.74" stop-color="#94a8b3"/><stop offset="1" stop-color="#08328c"/></linearGradient></defs>
<rect x="1939.5" y="150.8" width="27.2" height="418.5" fill="url(#cb)"/>
<text x="1977.3" y="205.5" font-size="24.4" text-anchor="start">2</text>
<text x="1977.3" y="287.3" font-size="24.4" text-anchor="start">1</text>
<text x="1977.3" y="370.3" font-size="24.4" text-anchor="start">0</text>
<text x="1977.3" y="454" font-size="24.4" text-anchor="start">-1</text>
<text x="1977.3" y="537" font-size="24.4" text-anchor="start">-2</text>
</svg>
</body>
</html>
